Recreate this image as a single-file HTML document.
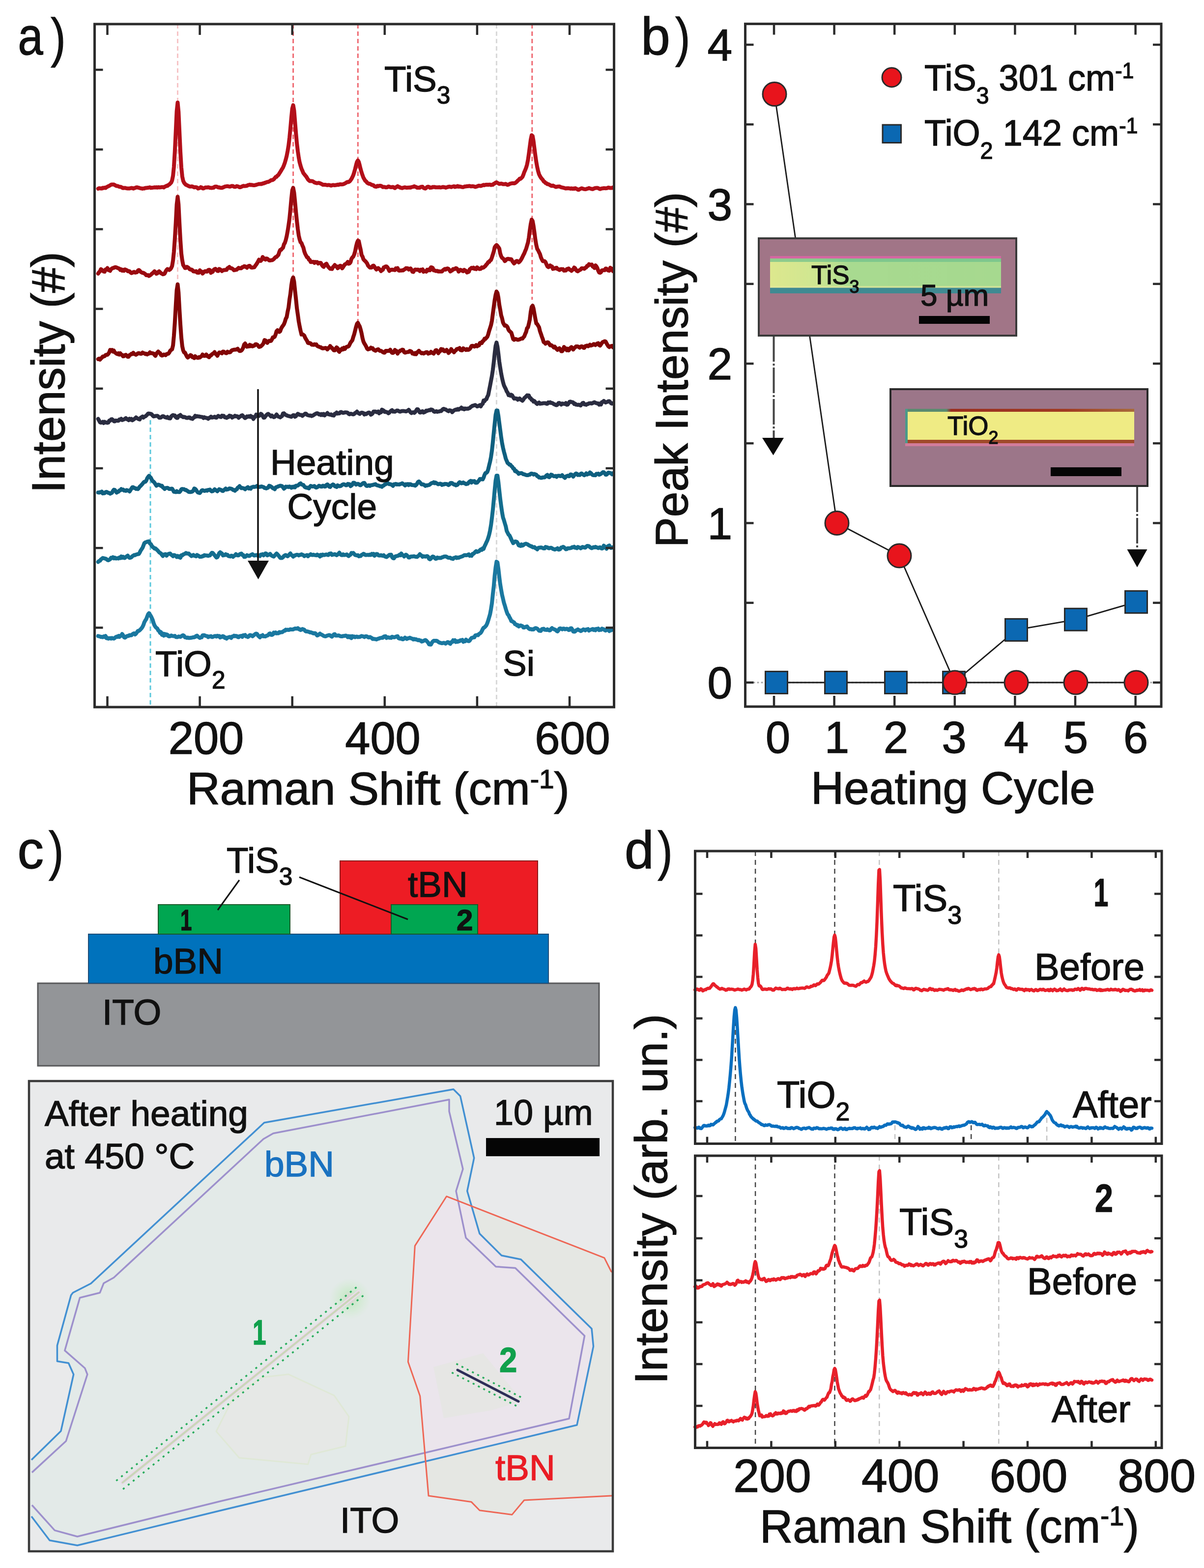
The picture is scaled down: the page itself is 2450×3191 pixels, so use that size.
<!DOCTYPE html>
<html><head><meta charset="utf-8"><title>Figure</title>
<style>html,body{margin:0;padding:0;background:#fff;width:2450px;height:3191px;overflow:hidden} svg{display:block}</style>
</head><body>
<svg width="2450" height="3191" viewBox="0 0 2450 3191" font-family="'Liberation Sans', Arial, sans-serif">
<rect width="2450" height="3191" fill="#fff"/>
<line x1="361.5" y1="49" x2="361.5" y2="575" stroke="#f7c4c6" stroke-width="3" stroke-dasharray="9,6"/>
<line x1="596.6" y1="49" x2="596.6" y2="560" stroke="#ef6a72" stroke-width="3" stroke-dasharray="9,6"/>
<line x1="728.3" y1="49" x2="728.3" y2="660" stroke="#ef6a72" stroke-width="3" stroke-dasharray="9,6"/>
<line x1="1082.8" y1="49" x2="1082.8" y2="610" stroke="#ef6a72" stroke-width="3" stroke-dasharray="9,6"/>
<line x1="1010.4" y1="49" x2="1010.4" y2="1439" stroke="#d8d8d8" stroke-width="3" stroke-dasharray="9,6"/>
<line x1="306" y1="855" x2="306" y2="1439" stroke="#5cc8dc" stroke-width="3" stroke-dasharray="9,6"/>
<polyline points="199.7,384 201.6,383 203.5,383.4 205.3,383.3 207.2,383.7 209.1,382.2 211,382.7 212.9,381.8 214.7,382.5 216.6,381 218.5,380 220.4,378.9 222.3,378.2 224.1,377.1 226,375.9 227.9,375.4 229.8,375.4 231.7,375.6 233.5,376.5 235.4,377.7 237.3,378.4 239.2,378.6 241.1,379.3 243,380.2 244.8,380.2 246.7,380.7 248.6,382 250.5,382.8 252.4,382.5 254.2,382.4 256.1,382.9 258,383.2 259.9,383.4 261.8,383.5 263.6,383.6 265.5,382.9 267.4,382.6 269.3,382.8 271.2,383.8 273,382.9 274.9,382.5 276.8,381.5 278.7,381.2 280.6,381.6 282.5,382.2 284.3,382.7 286.2,383.3 288.1,383.4 290,384 291.9,383.5 293.7,383.5 295.6,382.4 297.5,382.5 299.4,382.2 301.3,381.9 303.1,381.7 305,381.2 306.9,382.4 308.8,381.9 310.7,381.9 312.6,381.6 314.4,381.3 316.3,381.5 318.2,381.1 320.1,381.7 322,380.9 323.8,381.4 325.7,381.2 327.6,381.2 329.5,380.7 331.4,380.8 333.2,381.5 335.1,380 337,379.3 338.9,378.1 340.8,378.2 342.6,376.4 344.5,375.6 346.4,373.5 348.3,371.7 350.2,367.1 352.1,357.6 353.9,339.3 355.8,308.1 357.7,267.7 359.6,226.5 361.5,208.7 363.3,227.3 365.2,268.4 367.1,309.1 369,340.8 370.9,359.2 372.7,367.8 374.6,371.9 376.5,374.2 378.4,376.1 380.3,376.7 382.1,377.8 384,378.7 385.9,379.6 387.8,379.7 389.7,379.3 391.6,379.4 393.4,380.4 395.3,381.2 397.2,380.9 399.1,381.1 401,381.6 402.8,383.6 404.7,383 406.6,382.6 408.5,380.9 410.4,381.6 412.2,383.2 414.1,383.5 416,382.5 417.9,381.5 419.8,381.4 421.6,381.6 423.5,381.1 425.4,381.5 427.3,382.2 429.2,382.3 431.1,382.6 432.9,381.8 434.8,381.9 436.7,380.2 438.6,379.7 440.5,379.8 442.3,380.5 444.2,381.5 446.1,381.3 448,382.1 449.9,382.2 451.7,382.3 453.6,381.5 455.5,380.7 457.4,379.7 459.3,379.4 461.1,379.1 463,379.1 464.9,379.2 466.8,379.8 468.7,379.8 470.6,378.8 472.4,378.5 474.3,378.7 476.2,380.1 478.1,380.3 480,379.8 481.8,378.7 483.7,379.3 485.6,379.9 487.5,381.1 489.4,381 491.2,380 493.1,379.2 495,378.2 496.9,378.7 498.8,378.6 500.6,378.4 502.5,378 504.4,376.8 506.3,376.5 508.2,375.8 510.1,376.5 511.9,376.2 513.8,376.7 515.7,376.9 517.6,377.1 519.5,376.7 521.3,376.1 523.2,375.5 525.1,375 527,374.4 528.9,374.5 530.7,374.3 532.6,374.5 534.5,373.2 536.4,373.3 538.3,372.1 540.2,371.9 542,370.8 543.9,370.3 545.8,370.2 547.7,369.2 549.6,368.2 551.4,366.7 553.3,366.6 555.2,366.1 557.1,364.7 559,362.6 560.8,360.3 562.7,360 564.6,357.3 566.5,356.1 568.4,353 570.2,350.3 572.1,347.1 574,343.8 575.9,340.8 577.8,336.2 579.7,331 581.5,324.7 583.4,317.3 585.3,307.5 587.2,296 589.1,280.2 590.9,261.7 592.8,239.6 594.7,221 596.6,214 598.5,224.9 600.3,247.3 602.2,270.9 604.1,291.5 606,307.7 607.9,320.8 609.7,330.4 611.6,337.2 613.5,343.3 615.4,347.5 617.3,352.2 619.2,354.5 621,356.9 622.9,359 624.8,362 626.7,365.2 628.6,367.1 630.4,368.4 632.3,368.5 634.2,368.4 636.1,368.8 638,369.9 639.8,371.3 641.7,371.9 643.6,372.5 645.5,372.7 647.4,372.3 649.2,372.2 651.1,372.9 653,373.8 654.9,374.6 656.8,375.9 658.7,376.1 660.5,376.1 662.4,375.9 664.3,376.6 666.2,376.9 668.1,376.4 669.9,376.5 671.8,377.1 673.7,377.7 675.6,377.1 677.5,376.4 679.3,376.7 681.2,377.1 683.1,376.5 685,376.6 686.9,375.7 688.8,376.2 690.6,375.2 692.5,375.1 694.4,375.3 696.3,375.2 698.2,374.9 700,374.2 701.9,373.3 703.8,372.3 705.7,370.9 707.6,370.3 709.4,370.4 711.3,369.2 713.2,367.1 715.1,364.3 717,360.6 718.8,356.7 720.7,350.7 722.6,344 724.5,336.2 726.4,329.4 728.3,326.5 730.1,329.5 732,336.6 733.9,344.4 735.8,351 737.7,356.5 739.5,361.5 741.4,364.7 743.3,367.9 745.2,369.2 747.1,371.9 748.9,372.9 750.8,374 752.7,374.1 754.6,375 756.5,376.4 758.3,376.5 760.2,377.3 762.1,379.4 764,379.7 765.9,379.9 767.8,378.2 769.6,379.1 771.5,378.3 773.4,378 775.3,378.3 777.2,379.3 779,380.8 780.9,380.4 782.8,380.6 784.7,381.3 786.6,381.3 788.4,380.9 790.3,379.5 792.2,379.9 794.1,380.8 796,381 797.8,380.7 799.7,380.4 801.6,381.7 803.5,382.8 805.4,381.3 807.3,379.9 809.1,378.9 811,380.6 812.9,380.6 814.8,382.1 816.7,382.3 818.5,382.8 820.4,382 822.3,381.5 824.2,381.2 826.1,381.8 827.9,382.1 829.8,381.8 831.7,381.8 833.6,381.6 835.5,381.8 837.3,380.8 839.2,380.4 841.1,380.1 843,379.1 844.9,380 846.8,380.6 848.6,381.9 850.5,381.9 852.4,381.8 854.3,382.1 856.2,380.4 858,380.1 859.9,380.1 861.8,382.2 863.7,383.3 865.6,383.7 867.4,382.3 869.3,380.3 871.2,379.9 873.1,380.5 875,382 876.9,381.7 878.7,381.7 880.6,380.5 882.5,380.7 884.4,380.4 886.3,381.3 888.1,381.2 890,381.3 891.9,381.3 893.8,381 895.7,381.4 897.5,381.4 899.4,381.1 901.3,380.4 903.2,381 905.1,381.1 906.9,381.9 908.8,381.2 910.7,380.9 912.6,379.9 914.5,379.8 916.4,380.1 918.2,380.7 920.1,380 922,379.5 923.9,379.1 925.8,380.5 927.6,379.5 929.5,379.8 931.4,378.6 933.3,380 935.2,379.4 937,379.8 938.9,380.4 940.8,380.7 942.7,380.7 944.6,380 946.4,379.4 948.3,379.4 950.2,379 952.1,379 954,378.6 955.9,378.5 957.7,379.2 959.6,379.2 961.5,378.9 963.4,379.2 965.3,379.6 967.1,380.5 969,380 970.9,379.3 972.8,378.4 974.7,377.8 976.5,378.3 978.4,378.4 980.3,377.7 982.2,377.1 984.1,376.2 985.9,376.9 987.8,376.1 989.7,376 991.6,375.8 993.5,376.2 995.4,375.7 997.2,375.7 999.1,376.5 1001,376.1 1002.9,376.1 1004.8,373.9 1006.6,373.5 1008.5,371.8 1010.4,371.1 1012.3,372.2 1014.2,373.2 1016,374.2 1017.9,374 1019.8,373.5 1021.7,374 1023.6,374.8 1025.4,374.7 1027.3,374.7 1029.2,374.2 1031.1,375.5 1033,376.2 1034.9,375.7 1036.7,374.5 1038.6,373.7 1040.5,373.3 1042.4,373.1 1044.3,372.8 1046.1,373.2 1048,372.7 1049.9,371.2 1051.8,369.6 1053.7,367.4 1055.5,366.1 1057.4,363.6 1059.3,363.9 1061.2,362.1 1063.1,360.1 1065,355.7 1066.8,350.3 1068.7,346.1 1070.6,341.3 1072.5,334.8 1074.4,325.3 1076.2,312.8 1078.1,298.2 1080,284.1 1081.9,275.2 1083.8,276.8 1085.6,286.9 1087.5,302.1 1089.4,316.6 1091.3,329.7 1093.2,340.1 1095,348.1 1096.9,354.5 1098.8,358.4 1100.7,361.6 1102.6,363.9 1104.5,366 1106.3,369.1 1108.2,370.1 1110.1,372.4 1112,373 1113.9,374.8 1115.7,374.8 1117.6,375.8 1119.5,376.9 1121.4,377.9 1123.3,378.4 1125.1,377.6 1127,378.5 1128.9,379.5 1130.8,380.4 1132.7,380.2 1134.5,379.7 1136.4,379.6 1138.3,379.4 1140.2,380.3 1142.1,381.3 1144,381.5 1145.8,382 1147.7,382.4 1149.6,383.1 1151.5,383.5 1153.4,383.1 1155.2,383.2 1157.1,383.1 1159,383.4 1160.9,384 1162.8,383.3 1164.6,384.2 1166.5,383.6 1168.4,384.3 1170.3,383 1172.2,383.8 1174,384.7 1175.9,386 1177.8,386.2 1179.7,384.9 1181.6,384 1183.5,383.3 1185.3,383.6 1187.2,384.5 1189.1,384.8 1191,385.2 1192.9,384.8 1194.7,384.1 1196.6,383.6 1198.5,382.8 1200.4,383.5 1202.3,384 1204.1,384.6 1206,384.9 1207.9,383.9 1209.8,383.2 1211.7,382.7 1213.5,382.6 1215.4,382.5 1217.3,382.9 1219.2,384 1221.1,384.7 1223,384.1 1224.8,383.4 1226.7,383.3 1228.6,383 1230.5,383.1 1232.4,383.2 1234.2,383.1 1236.1,382.5 1238,381.7 1239.9,382.1 1241.8,382.6 1243.6,382.6 1245.5,382.5 1247.4,381.4" fill="none" stroke="#b30f19" stroke-width="8" stroke-linejoin="round" stroke-linecap="round" />
<polyline points="199.7,556.8 201.6,554 203.5,552 205.3,547.8 207.2,549.1 209.1,551 211,552.5 212.9,552.9 214.7,548.5 216.6,548.1 218.5,545.5 220.4,549.7 222.3,549.8 224.1,551.2 226,547.7 227.9,546.4 229.8,545.4 231.7,545 233.5,543.9 235.4,543.7 237.3,544.4 239.2,545.3 241.1,546.1 243,546.8 244.8,549.3 246.7,548.1 248.6,550.7 250.5,549.2 252.4,550.9 254.2,548.3 256.1,549.1 258,549.7 259.9,552 261.8,551.6 263.6,552.1 265.5,554.4 267.4,555.8 269.3,555 271.2,553.8 273,553.2 274.9,554.8 276.8,554.4 278.7,554.1 280.6,550.7 282.5,549.5 284.3,550.9 286.2,553.2 288.1,554.4 290,555.2 291.9,555.2 293.7,556.5 295.6,557.6 297.5,560.1 299.4,560.2 301.3,559.8 303.1,561.6 305,560.5 306.9,559.2 308.8,557.2 310.7,555.9 312.6,554 314.4,552.2 316.3,554.1 318.2,557.1 320.1,556.3 322,553.3 323.8,552.2 325.7,553.9 327.6,556.1 329.5,556.9 331.4,558.2 333.2,557.8 335.1,556.7 337,552.5 338.9,549.3 340.8,547.5 342.6,548.4 344.5,549.4 346.4,548 348.3,545.5 350.2,541.3 352.1,529.9 353.9,512.3 355.8,485.9 357.7,453.5 359.6,416.2 361.5,400.4 363.3,415.9 365.2,454 367.1,488.6 369,516.1 370.9,530 372.7,539.1 374.6,542.3 376.5,545.4 378.4,545.2 380.3,543.1 382.1,544.1 384,545.3 385.9,547.8 387.8,548.7 389.7,548.6 391.6,549.9 393.4,552.1 395.3,552.5 397.2,552.3 399.1,551.8 401,554.8 402.8,554.9 404.7,555 406.6,550.1 408.5,552.5 410.4,552.7 412.2,556.7 414.1,554.7 416,552.4 417.9,551.7 419.8,552.7 421.6,552.8 423.5,549.5 425.4,549 427.3,549.8 429.2,555.2 431.1,553.7 432.9,553.1 434.8,549.2 436.7,547.7 438.6,547 440.5,549.3 442.3,551.2 444.2,551.5 446.1,547.4 448,548.2 449.9,549.8 451.7,551.7 453.6,550.2 455.5,549.6 457.4,549.6 459.3,549 461.1,549.3 463,545.7 464.9,544.7 466.8,543.3 468.7,545.8 470.6,545.8 472.4,546.5 474.3,547.9 476.2,549.9 478.1,549.6 480,549 481.8,548.8 483.7,546.7 485.6,545.1 487.5,546.1 489.4,545.8 491.2,545.9 493.1,543.4 495,543.4 496.9,541.7 498.8,542.1 500.6,543.4 502.5,544.9 504.4,542.4 506.3,541.2 508.2,540.9 510.1,543.7 511.9,544.5 513.8,544.6 515.7,544.2 517.6,543.8 519.5,540.8 521.3,538.5 523.2,535.5 525.1,532.2 527,528.5 528.9,530.8 530.7,530.9 532.6,528.3 534.5,523 536.4,525.2 538.3,527.2 540.2,528.3 542,526.1 543.9,526.5 545.8,528.1 547.7,530 549.6,530.1 551.4,529.5 553.3,529.6 555.2,528.8 557.1,527.2 559,525.1 560.8,523.2 562.7,522.9 564.6,520.7 566.5,518.7 568.4,512.6 570.2,508.5 572.1,508.4 574,505.8 575.9,504.2 577.8,497.2 579.7,494.3 581.5,488.6 583.4,480.7 585.3,470.6 587.2,458.4 589.1,444.8 590.9,426.5 592.8,405 594.7,387.4 596.6,382.2 598.5,392.2 600.3,410.1 602.2,431.1 604.1,449.7 606,466.2 607.9,479.3 609.7,487.1 611.6,492.9 613.5,494.7 615.4,499.7 617.3,503.7 619.2,511.6 621,516.5 622.9,520.1 624.8,523.7 626.7,524.2 628.6,528.4 630.4,529.1 632.3,533.3 634.2,533.2 636.1,532.9 638,532.8 639.8,535.1 641.7,533 643.6,533.5 645.5,533.3 647.4,536.3 649.2,535 651.1,535 653,535.1 654.9,539.1 656.8,541.7 658.7,543.1 660.5,539.7 662.4,537.8 664.3,536.6 666.2,540.4 668.1,543.2 669.9,545 671.8,547 673.7,546.9 675.6,547.5 677.5,543.6 679.3,541.9 681.2,539.2 683.1,541.9 685,541.9 686.9,545.8 688.8,544.7 690.6,541.8 692.5,540.7 694.4,541.4 696.3,546 698.2,543.5 700,540.6 701.9,537.9 703.8,537.1 705.7,535.7 707.6,533 709.4,536.7 711.3,536 713.2,533.9 715.1,526.9 717,524 718.8,522.3 720.7,518 722.6,511.7 724.5,502 726.4,494.4 728.3,489.9 730.1,490.5 732,499.7 733.9,508 735.8,519 737.7,522.1 739.5,527.5 741.4,529.8 743.3,531.3 745.2,533.6 747.1,536.2 748.9,540.6 750.8,542.6 752.7,544.5 754.6,544.5 756.5,544.5 758.3,541.1 760.2,540.5 762.1,543 764,546.2 765.9,548.4 767.8,546.3 769.6,545.5 771.5,547.5 773.4,548.5 775.3,551.7 777.2,549.8 779,549.1 780.9,544.2 782.8,543.7 784.7,542.2 786.6,542.3 788.4,544 790.3,547.3 792.2,551.3 794.1,549.8 796,548.9 797.8,548.7 799.7,549 801.6,549.2 803.5,549.7 805.4,546.3 807.3,547.5 809.1,545.7 811,550.3 812.9,550.8 814.8,550.6 816.7,550.6 818.5,550.1 820.4,550.3 822.3,548.6 824.2,547.7 826.1,545.7 827.9,545.9 829.8,546 831.7,548.5 833.6,547 835.5,546.3 837.3,549 839.2,553 841.1,553.5 843,550.3 844.9,548.6 846.8,548.8 848.6,549 850.5,548.6 852.4,549.4 854.3,551.6 856.2,548.8 858,549.2 859.9,548.2 861.8,553 863.7,551.7 865.6,552.1 867.4,552.8 869.3,548.8 871.2,550.3 873.1,548.3 875,549.9 876.9,544.1 878.7,544.3 880.6,545.3 882.5,550.3 884.4,550.2 886.3,551.4 888.1,551.4 890,551.3 891.9,552.5 893.8,552.3 895.7,552.4 897.5,552.5 899.4,552.4 901.3,550.1 903.2,548.6 905.1,547.4 906.9,548.7 908.8,546.9 910.7,546.3 912.6,547.2 914.5,549.6 916.4,552.4 918.2,551.1 920.1,550.3 922,547.4 923.9,547.7 925.8,547.5 927.6,545.7 929.5,546.5 931.4,548.6 933.3,552.7 935.2,550.7 937,549 938.9,549.9 940.8,551.2 942.7,551.9 944.6,549.1 946.4,550.5 948.3,551.3 950.2,554.6 952.1,553.8 954,553 955.9,548 957.7,546.7 959.6,545 961.5,546 963.4,544.6 965.3,547 967.1,545.8 969,547.7 970.9,544.1 972.8,545.7 974.7,547.2 976.5,547.4 978.4,547 980.3,544.1 982.2,545 984.1,544.4 985.9,542.7 987.8,541.1 989.7,538.4 991.6,536.6 993.5,533.3 995.4,533 997.2,530.2 999.1,529 1001,523.8 1002.9,517.8 1004.8,511.8 1006.6,503.4 1008.5,500.4 1010.4,498.7 1012.3,500.5 1014.2,503.1 1016,505.7 1017.9,515.7 1019.8,521.4 1021.7,524.9 1023.6,525.8 1025.4,528.2 1027.3,531.3 1029.2,529.8 1031.1,527.5 1033,526.8 1034.9,526.8 1036.7,527.7 1038.6,527.3 1040.5,527.7 1042.4,531.2 1044.3,533.9 1046.1,536.2 1048,534.4 1049.9,531.7 1051.8,531.1 1053.7,531.8 1055.5,534 1057.4,532.3 1059.3,529.9 1061.2,526.8 1063.1,523.1 1065,519 1066.8,515.8 1068.7,510.9 1070.6,506.5 1072.5,499.9 1074.4,493.5 1076.2,483.6 1078.1,468.6 1080,455.9 1081.9,447 1083.8,449.8 1085.6,459.5 1087.5,472.9 1089.4,487.7 1091.3,498.6 1093.2,506.5 1095,509.3 1096.9,513.4 1098.8,517 1100.7,523.7 1102.6,527.9 1104.5,531.4 1106.3,531.2 1108.2,531.4 1110.1,533.5 1112,538 1113.9,542 1115.7,543.6 1117.6,543 1119.5,540.2 1121.4,542.1 1123.3,542.2 1125.1,547.2 1127,546.3 1128.9,546.4 1130.8,545.2 1132.7,544.8 1134.5,547.6 1136.4,547.9 1138.3,549.5 1140.2,548.3 1142.1,547.6 1144,547.9 1145.8,547.8 1147.7,550.8 1149.6,550.3 1151.5,550.6 1153.4,547.7 1155.2,547.2 1157.1,546.3 1159,548.7 1160.9,549.4 1162.8,551.2 1164.6,549.1 1166.5,548.5 1168.4,544.5 1170.3,546 1172.2,549.2 1174,551.4 1175.9,552.2 1177.8,550.4 1179.7,549.6 1181.6,548.5 1183.5,545.9 1185.3,546.1 1187.2,546.2 1189.1,547 1191,545 1192.9,544.2 1194.7,541.1 1196.6,541 1198.5,537.6 1200.4,538.7 1202.3,538.7 1204.1,538.3 1206,542.4 1207.9,543.4 1209.8,545.3 1211.7,540.1 1213.5,542 1215.4,545.3 1217.3,550.7 1219.2,554.6 1221.1,555 1223,553.8 1224.8,550.2 1226.7,550.1 1228.6,549.6 1230.5,549.9 1232.4,546.6 1234.2,546.8 1236.1,549.3 1238,550.5 1239.9,550.9 1241.8,544.9 1243.6,546.9 1245.5,546.8 1247.4,552" fill="none" stroke="#9a0a10" stroke-width="8" stroke-linejoin="round" stroke-linecap="round" />
<polyline points="199.7,730.9 201.6,729.9 203.5,731.8 205.3,729.6 207.2,727.9 209.1,725.6 211,725.4 212.9,724.8 214.7,722.7 216.6,721.9 218.5,722 220.4,720.2 222.3,717.1 224.1,712 226,713.2 227.9,712.1 229.8,715.4 231.7,713.6 233.5,717 235.4,718.4 237.3,719.8 239.2,720.7 241.1,719 243,721.6 244.8,719 246.7,721.7 248.6,722.3 250.5,725.2 252.4,724.8 254.2,722.6 256.1,722.1 258,723.9 259.9,726.1 261.8,725.9 263.6,722.6 265.5,721.9 267.4,719.9 269.3,720.4 271.2,718 273,720.4 274.9,720.9 276.8,721.9 278.7,720.7 280.6,719 282.5,718.5 284.3,719.5 286.2,719.9 288.1,719.7 290,717.5 291.9,718.8 293.7,718.9 295.6,720.4 297.5,719.7 299.4,721.3 301.3,720.1 303.1,719.6 305,717 306.9,718.7 308.8,718.7 310.7,719 312.6,719.5 314.4,722.2 316.3,724.2 318.2,720 320.1,717.5 322,715.5 323.8,717.6 325.7,718.5 327.6,722.4 329.5,723.6 331.4,723.1 333.2,721.5 335.1,721.9 337,722.8 338.9,720.6 340.8,720.1 342.6,719.8 344.5,717.3 346.4,713.7 348.3,712 350.2,710.8 352.1,702.9 353.9,683.4 355.8,656.1 357.7,621.9 359.6,590.6 361.5,578.8 363.3,595.1 365.2,629.5 367.1,660.7 369,687.3 370.9,704.6 372.7,712.8 374.6,717 376.5,717.8 378.4,721.7 380.3,725.5 382.1,727.5 384,726 385.9,724.2 387.8,722.6 389.7,723.7 391.6,727.1 393.4,727 395.3,728.6 397.2,725 399.1,727.5 401,727.5 402.8,728.3 404.7,726.8 406.6,727.6 408.5,725.9 410.4,724.7 412.2,721.4 414.1,724 416,724.3 417.9,724 419.8,721.4 421.6,724.7 423.5,725.6 425.4,726.9 427.3,723.8 429.2,723.6 431.1,721.2 432.9,719.8 434.8,718.9 436.7,716.6 438.6,720 440.5,721.4 442.3,724 444.2,720 446.1,717.3 448,718 449.9,717.7 451.7,719 453.6,715.5 455.5,715.8 457.4,717.4 459.3,718.5 461.1,718.7 463,715.7 464.9,717.1 466.8,717.1 468.7,716.7 470.6,714.1 472.4,712.6 474.3,712.2 476.2,711.7 478.1,711.5 480,711.6 481.8,710.8 483.7,709.7 485.6,712.5 487.5,714.3 489.4,714.2 491.2,713.2 493.1,711.1 495,707.2 496.9,701 498.8,699.1 500.6,702.3 502.5,705.6 504.4,704.3 506.3,705 508.2,701.7 510.1,704.4 511.9,703.1 513.8,704.9 515.7,704.1 517.6,703.3 519.5,700.7 521.3,700.6 523.2,701.2 525.1,703.4 527,706 528.9,705.6 530.7,704.8 532.6,702.9 534.5,701.2 536.4,697.9 538.3,692.1 540.2,692.7 542,694.5 543.9,697.7 545.8,694.8 547.7,693.6 549.6,694 551.4,693.8 553.3,690.8 555.2,686.5 557.1,686.6 559,685.2 560.8,680.8 562.7,674.2 564.6,672 566.5,674.5 568.4,675.5 570.2,673.9 572.1,668.5 574,665.2 575.9,662.6 577.8,659.7 579.7,654.9 581.5,648.7 583.4,645.3 585.3,634.4 587.2,625.6 589.1,609.3 590.9,598.1 592.8,581.1 594.7,569.3 596.6,564.6 598.5,573.3 600.3,591.2 602.2,608.3 604.1,627.1 606,640.2 607.9,654.1 609.7,663.9 611.6,672.9 613.5,680.7 615.4,680.3 617.3,681.4 619.2,683.2 621,687.4 622.9,690.6 624.8,693.6 626.7,697.9 628.6,698.4 630.4,698.1 632.3,698.9 634.2,701.4 636.1,701.6 638,701.8 639.8,700.6 641.7,701.6 643.6,700.8 645.5,704 647.4,705 649.2,705.6 651.1,706.5 653,706.8 654.9,708.4 656.8,709 658.7,708.6 660.5,708.6 662.4,708.1 664.3,708.8 666.2,711.1 668.1,708.1 669.9,708.1 671.8,704.2 673.7,706.9 675.6,707.9 677.5,710.7 679.3,712.8 681.2,713.1 683.1,709.6 685,706.9 686.9,708.6 688.8,714.3 690.6,715.9 692.5,711.7 694.4,712.3 696.3,709.1 698.2,711.1 700,707.6 701.9,710 703.8,707.2 705.7,705.7 707.6,705.5 709.4,704.7 711.3,701.4 713.2,697.4 715.1,694.9 717,692.4 718.8,686.1 720.7,680.4 722.6,673.1 724.5,665.3 726.4,659.1 728.3,657.1 730.1,661.1 732,664.3 733.9,670.7 735.8,678.4 737.7,688.3 739.5,695 741.4,698.9 743.3,701.9 745.2,705.4 747.1,709.6 748.9,711 750.8,710.3 752.7,709.8 754.6,707.5 756.5,709.1 758.3,708.6 760.2,711.7 762.1,712.8 764,713.8 765.9,712.3 767.8,711.5 769.6,710.7 771.5,712.8 773.4,714 775.3,714 777.2,715.1 779,716.5 780.9,717.6 782.8,717.7 784.7,714.1 786.6,713.9 788.4,714.3 790.3,714 792.2,714.1 794.1,711.7 796,715.7 797.8,717.9 799.7,718.3 801.6,717 803.5,712.1 805.4,714.1 807.3,714.4 809.1,719.7 811,715.4 812.9,715.4 814.8,713.2 816.7,713 818.5,711.6 820.4,712 822.3,716.5 824.2,717.7 826.1,717.2 827.9,716.7 829.8,716.3 831.7,716.2 833.6,714.2 835.5,714.6 837.3,715.7 839.2,719.4 841.1,718.7 843,720.6 844.9,718.6 846.8,720.8 848.6,717.5 850.5,715.8 852.4,713.9 854.3,716.3 856.2,717.6 858,719 859.9,718.3 861.8,719.4 863.7,718.7 865.6,717.5 867.4,716.8 869.3,716.7 871.2,719.7 873.1,718.7 875,718.7 876.9,716 878.7,717.6 880.6,718.5 882.5,719.7 884.4,716.4 886.3,713.1 888.1,712.5 890,715 891.9,718.8 893.8,715.9 895.7,714.6 897.5,710.3 899.4,711.2 901.3,711 903.2,714.4 905.1,714.8 906.9,714 908.8,712.1 910.7,714.3 912.6,718.3 914.5,716.5 916.4,714.3 918.2,710.4 920.1,713.8 922,714.5 923.9,716.9 925.8,713.9 927.6,713.1 929.5,710.3 931.4,709.9 933.3,709.5 935.2,708.3 937,712.4 938.9,712.9 940.8,712.9 942.7,708.9 944.6,710.4 946.4,710.8 948.3,712.2 950.2,710.4 952.1,712.1 954,711.7 955.9,710.2 957.7,707.6 959.6,703.9 961.5,703.7 963.4,704.1 965.3,705.4 967.1,704.6 969,702.2 970.9,704.7 972.8,703.4 974.7,702.7 976.5,698 978.4,697.3 980.3,698.2 982.2,694.3 984.1,693.4 985.9,689.4 987.8,689.8 989.7,687.4 991.6,685.5 993.5,680.3 995.4,673.2 997.2,667.7 999.1,661.8 1001,652.8 1002.9,638.2 1004.8,624.4 1006.6,610.9 1008.5,600.2 1010.4,593.4 1012.3,596.3 1014.2,605.9 1016,620 1017.9,630.2 1019.8,641.7 1021.7,647.8 1023.6,656.4 1025.4,659.8 1027.3,662.8 1029.2,662.3 1031.1,663.6 1033,666.3 1034.9,671.4 1036.7,673.7 1038.6,675.3 1040.5,677.1 1042.4,683.5 1044.3,690.1 1046.1,691.5 1048,690.3 1049.9,690 1051.8,690.9 1053.7,691.6 1055.5,691.1 1057.4,690.6 1059.3,689.7 1061.2,688.7 1063.1,689.1 1065,686.5 1066.8,684.7 1068.7,679.7 1070.6,675.5 1072.5,667.7 1074.4,666.1 1076.2,658.7 1078.1,650.1 1080,634.4 1081.9,624.6 1083.8,622.1 1085.6,627.5 1087.5,638.1 1089.4,648.6 1091.3,658.2 1093.2,659.7 1095,662.8 1096.9,666 1098.8,674 1100.7,679.3 1102.6,685.1 1104.5,690 1106.3,696.1 1108.2,697 1110.1,699.4 1112,697.6 1113.9,696.6 1115.7,697 1117.6,699.6 1119.5,702.7 1121.4,702.2 1123.3,703.7 1125.1,704.8 1127,707.1 1128.9,705.6 1130.8,708.1 1132.7,710.4 1134.5,712.1 1136.4,710.1 1138.3,708.7 1140.2,710.7 1142.1,714.8 1144,714.7 1145.8,712 1147.7,706.1 1149.6,709.9 1151.5,709.1 1153.4,712.8 1155.2,709.8 1157.1,713.1 1159,710.8 1160.9,707.9 1162.8,706.3 1164.6,707.8 1166.5,711.2 1168.4,708.5 1170.3,707.1 1172.2,705 1174,705.1 1175.9,705.1 1177.8,706.2 1179.7,707.6 1181.6,705.6 1183.5,704.7 1185.3,705.5 1187.2,707.8 1189.1,708 1191,704.4 1192.9,703.9 1194.7,703.3 1196.6,704.7 1198.5,703.7 1200.4,701.5 1202.3,703.3 1204.1,702.6 1206,702 1207.9,700.3 1209.8,700.5 1211.7,702.2 1213.5,700.5 1215.4,699.1 1217.3,698.4 1219.2,702.1 1221.1,703.3 1223,700.7 1224.8,697.8 1226.7,696 1228.6,695.4 1230.5,694.4 1232.4,695 1234.2,698.6 1236.1,701.9 1238,704.9 1239.9,706.3 1241.8,704.8 1243.6,704.3 1245.5,703.8 1247.4,706.8" fill="none" stroke="#820505" stroke-width="8" stroke-linejoin="round" stroke-linecap="round" />
<polyline points="199.7,852.5 201.6,855.8 203.5,859.3 205.3,860.2 207.2,859.8 209.1,858.5 211,860.9 212.9,858.5 214.7,859.8 216.6,859.8 218.5,860.5 220.4,860 222.3,856 224.1,856.3 226,853.5 227.9,853.1 229.8,854.6 231.7,857.3 233.5,857.6 235.4,855.8 237.3,855.9 239.2,856.2 241.1,856.3 243,853.6 244.8,853.9 246.7,852.3 248.6,855 250.5,854.1 252.4,853.5 254.2,852.3 256.1,850.9 258,853.2 259.9,853 261.8,855.1 263.6,852.3 265.5,854.1 267.4,852.5 269.3,855.3 271.2,854.1 273,852.9 274.9,851.4 276.8,849.5 278.7,851 280.6,852 282.5,853.2 284.3,853.6 286.2,850 288.1,849 290,847.6 291.9,849.7 293.7,848 295.6,847.5 297.5,845.9 299.4,844.1 301.3,841.7 303.1,841.5 305,842 306.9,842.2 308.8,843.3 310.7,845.7 312.6,847.4 314.4,847 316.3,846.6 318.2,846.6 320.1,846.2 322,847.4 323.8,849.9 325.7,850 327.6,849.6 329.5,847.8 331.4,847 333.2,847.4 335.1,848.8 337,849.3 338.9,850.1 340.8,848.4 342.6,850.8 344.5,851.3 346.4,851.5 348.3,847.7 350.2,845.9 352.1,844.7 353.9,845.5 355.8,845.6 357.7,848.9 359.6,850.4 361.5,850.4 363.3,846.5 365.2,845.9 367.1,844.5 369,847.3 370.9,847.4 372.7,849 374.6,848.4 376.5,848.8 378.4,850 380.3,850.6 382.1,850.4 384,849.4 385.9,849.5 387.8,851.5 389.7,851.5 391.6,852.5 393.4,850.1 395.3,849.7 397.2,846.1 399.1,847.8 401,846.9 402.8,847.4 404.7,847.4 406.6,848 408.5,848.3 410.4,848.4 412.2,848.8 414.1,850.8 416,849.2 417.9,850.3 419.8,850.4 421.6,851 423.5,852.3 425.4,850.5 427.3,850.1 429.2,848 431.1,849.7 432.9,849.6 434.8,848.9 436.7,848 438.6,849.8 440.5,849.9 442.3,848 444.2,846.3 446.1,847.5 448,848.4 449.9,848.7 451.7,845.7 453.6,846.3 455.5,846.3 457.4,849.3 459.3,849.6 461.1,850.4 463,848.4 464.9,848.8 466.8,845.9 468.7,846.4 470.6,846.9 472.4,849.9 474.3,848.4 476.2,847.7 478.1,846.1 480,847.4 481.8,846.9 483.7,847.6 485.6,850.2 487.5,848.2 489.4,847.5 491.2,845.6 493.1,845.1 495,847 496.9,849.3 498.8,850.8 500.6,849.8 502.5,847.3 504.4,848.3 506.3,847 508.2,848.3 510.1,846.5 511.9,848.9 513.8,848.3 515.7,852.5 517.6,848.8 519.5,848.2 521.3,843.7 523.2,845.4 525.1,846 527,846.4 528.9,844.7 530.7,842.1 532.6,843.4 534.5,846.6 536.4,850 538.3,849.7 540.2,846.9 542,845 543.9,843.1 545.8,842.3 547.7,843.9 549.6,845.3 551.4,847.5 553.3,845.8 555.2,847.7 557.1,849 559,848.3 560.8,846.2 562.7,843.6 564.6,846 566.5,847.9 568.4,848.3 570.2,849.4 572.1,847.9 574,846.7 575.9,841.4 577.8,841.1 579.7,842.9 581.5,844.6 583.4,845.1 585.3,846.1 587.2,846.7 589.1,847.2 590.9,847.7 592.8,848.3 594.7,846.5 596.6,844.9 598.5,844.9 600.3,848.1 602.2,847 604.1,844.4 606,842.1 607.9,843 609.7,844.3 611.6,844.5 613.5,844.4 615.4,846.3 617.3,844.6 619.2,843.3 621,841.7 622.9,842 624.8,844.3 626.7,845 628.6,845.5 630.4,845.7 632.3,845.6 634.2,846.7 636.1,845.8 638,844.9 639.8,843.5 641.7,842.5 643.6,841.3 645.5,840.9 647.4,841.9 649.2,843.5 651.1,842.7 653,844.5 654.9,842.8 656.8,844.6 658.7,842.5 660.5,845.3 662.4,843.4 664.3,842.5 666.2,840.6 668.1,843 669.9,843.4 671.8,844 673.7,843.2 675.6,845.1 677.5,845.3 679.3,845.7 681.2,842.1 683.1,842.1 685,839.5 686.9,841.7 688.8,841 690.6,841.3 692.5,838.8 694.4,838.4 696.3,839.6 698.2,840.2 700,839.9 701.9,839.3 703.8,839.3 705.7,839.4 707.6,840 709.4,842.1 711.3,843.1 713.2,842 715.1,842.3 717,842.9 718.8,843.3 720.7,842.5 722.6,840.4 724.5,839.7 726.4,837.6 728.3,840.2 730.1,841.2 732,842.4 733.9,840.5 735.8,839.8 737.7,840 739.5,840.7 741.4,843.5 743.3,841.8 745.2,842.8 747.1,841.2 748.9,840.1 750.8,839.4 752.7,840.5 754.6,843.9 756.5,843 758.3,841.2 760.2,837.4 762.1,837.5 764,837.4 765.9,838.7 767.8,838.5 769.6,837.4 771.5,841.2 773.4,839.4 775.3,839.1 777.2,833.7 779,834.6 780.9,835.7 782.8,838.3 784.7,837.9 786.6,838.8 788.4,839 790.3,841.1 792.2,839.9 794.1,837.4 796,835.7 797.8,834.6 799.7,837.6 801.6,837 803.5,837.9 805.4,836.8 807.3,835.6 809.1,835.4 811,836.4 812.9,837.5 814.8,837.7 816.7,836.8 818.5,836.6 820.4,836.4 822.3,836.6 824.2,836.9 826.1,837.3 827.9,836.5 829.8,835.7 831.7,834 833.6,836.5 835.5,839.3 837.3,840.7 839.2,839.4 841.1,839 843,840.3 844.9,838.6 846.8,835.5 848.6,832.8 850.5,832.9 852.4,836.2 854.3,839.5 856.2,839.4 858,837.4 859.9,836.9 861.8,839.6 863.7,838.8 865.6,837.9 867.4,835.5 869.3,836.2 871.2,835.2 873.1,834.5 875,834.9 876.9,833.3 878.7,833.7 880.6,834.6 882.5,837.2 884.4,838.1 886.3,837.5 888.1,836.8 890,838.1 891.9,837.4 893.8,837.3 895.7,836.4 897.5,836.6 899.4,834.7 901.3,832.5 903.2,831.9 905.1,833.1 906.9,833.2 908.8,834.8 910.7,835.7 912.6,836.8 914.5,835 916.4,835.3 918.2,835.8 920.1,838.8 922,836.7 923.9,835.3 925.8,834.2 927.6,833.5 929.5,833.9 931.4,832.3 933.3,833.6 935.2,832 937,831.6 938.9,829.6 940.8,832 942.7,831.2 944.6,832.9 946.4,831.3 948.3,831.9 950.2,831.6 952.1,831.9 954,830.9 955.9,830.5 957.7,828.4 959.6,827.2 961.5,825.8 963.4,825.5 965.3,824.6 967.1,824.3 969,825.7 970.9,827.2 972.8,826.7 974.7,825.5 976.5,824.4 978.4,827 980.3,823.4 982.2,821.8 984.1,815.2 985.9,816.5 987.8,813.4 989.7,812.5 991.6,807.5 993.5,803.9 995.4,794.1 997.2,785.1 999.1,775 1001,765 1002.9,752.5 1004.8,736.8 1006.6,719.3 1008.5,703.8 1010.4,697 1012.3,705.3 1014.2,719.7 1016,735.8 1017.9,748.1 1019.8,759.9 1021.7,769.5 1023.6,777.6 1025.4,784 1027.3,787.9 1029.2,791.6 1031.1,796.5 1033,799.1 1034.9,804.1 1036.7,803.1 1038.6,805.2 1040.5,803.4 1042.4,804.8 1044.3,808.4 1046.1,811.2 1048,810.6 1049.9,811.3 1051.8,811 1053.7,813.4 1055.5,811.9 1057.4,810.8 1059.3,813 1061.2,814.2 1063.1,815.5 1065,813.2 1066.8,810.2 1068.7,808.7 1070.6,806.8 1072.5,804.6 1074.4,804.7 1076.2,804.8 1078.1,810 1080,810.2 1081.9,814 1083.8,814.1 1085.6,817.3 1087.5,816.2 1089.4,818.5 1091.3,820.8 1093.2,822.1 1095,820.2 1096.9,819.1 1098.8,821.7 1100.7,821.2 1102.6,821.3 1104.5,820.7 1106.3,820.4 1108.2,820.4 1110.1,820.5 1112,821.8 1113.9,821.8 1115.7,818.8 1117.6,819.8 1119.5,818.6 1121.4,820.1 1123.3,820.1 1125.1,820.9 1127,822.5 1128.9,822.9 1130.8,824.2 1132.7,824.4 1134.5,823.4 1136.4,820.2 1138.3,820.1 1140.2,821.2 1142.1,823.3 1144,821.2 1145.8,821.7 1147.7,821.7 1149.6,822.2 1151.5,820.3 1153.4,823.7 1155.2,823.3 1157.1,820.7 1159,817.7 1160.9,817.3 1162.8,818.2 1164.6,818.4 1166.5,819 1168.4,822.1 1170.3,821.5 1172.2,823.5 1174,823.6 1175.9,824 1177.8,823.5 1179.7,824.4 1181.6,825.2 1183.5,822.5 1185.3,820.4 1187.2,819.8 1189.1,823 1191,822.7 1192.9,823.8 1194.7,822.2 1196.6,822.3 1198.5,820.7 1200.4,820.8 1202.3,820.6 1204.1,821.2 1206,820.3 1207.9,819.1 1209.8,818.6 1211.7,819.7 1213.5,820.4 1215.4,820.9 1217.3,821.1 1219.2,823.6 1221.1,821.3 1223,823.2 1224.8,818.4 1226.7,818 1228.6,815.9 1230.5,817.5 1232.4,819.1 1234.2,818.2 1236.1,817.8 1238,816.4 1239.9,816.5 1241.8,818.4 1243.6,820.7 1245.5,821.4 1247.4,820.5" fill="none" stroke="#2a2c40" stroke-width="8" stroke-linejoin="round" stroke-linecap="round" />
<polyline points="199.7,1002.2 201.6,1002.6 203.5,1001.5 205.3,1002 207.2,1000.4 209.1,1004.2 211,1003.8 212.9,1003.8 214.7,1001.6 216.6,1000.9 218.5,1001.8 220.4,1003 222.3,1003.3 224.1,1004.7 226,1003.7 227.9,1002.8 229.8,999.2 231.7,996.6 233.5,996.9 235.4,999.3 237.3,1002.5 239.2,1001.4 241.1,1000.6 243,998 244.8,998 246.7,995.3 248.6,996.8 250.5,996.3 252.4,998.5 254.2,998 256.1,999 258,997.4 259.9,998.3 261.8,998.5 263.6,1000.2 265.5,997.4 267.4,994.4 269.3,991.6 271.2,991.6 273,993 274.9,993.4 276.8,995 278.7,994.3 280.6,995.3 282.5,993.2 284.3,990.4 286.2,988.9 288.1,986.7 290,984.6 291.9,982.1 293.7,980.4 295.6,980.5 297.5,978.4 299.4,973.6 301.3,970.8 303.1,968.5 305,970.5 306.9,972.2 308.8,976 310.7,979.1 312.6,980.4 314.4,982.4 316.3,985.4 318.2,988.5 320.1,987.4 322,986.2 323.8,986.8 325.7,987.6 327.6,989 329.5,988.5 331.4,991.8 333.2,993.2 335.1,995 337,993.2 338.9,993.1 340.8,992.8 342.6,993.8 344.5,995 346.4,995.1 348.3,994.5 350.2,994.4 352.1,997.4 353.9,1000.8 355.8,1001 357.7,1001.5 359.6,999.4 361.5,1001.1 363.3,1001.2 365.2,1001.3 367.1,999.4 369,995.8 370.9,995.1 372.7,995.4 374.6,995.6 376.5,997 378.4,997 380.3,998.5 382.1,999.4 384,1001.1 385.9,1001.2 387.8,1001.3 389.7,1000.9 391.6,1000.2 393.4,998.4 395.3,994.1 397.2,995.1 399.1,997.1 401,1000.3 402.8,1002.2 404.7,1002.8 406.6,1003.3 408.5,1000.9 410.4,998.3 412.2,997.6 414.1,998.2 416,999.1 417.9,998.7 419.8,997.7 421.6,998.6 423.5,997 425.4,997.1 427.3,996.3 429.2,998.9 431.1,1000 432.9,999.5 434.8,998 436.7,995.8 438.6,997.2 440.5,998.4 442.3,999.8 444.2,997.5 446.1,995.5 448,996.4 449.9,997.1 451.7,998.7 453.6,999.3 455.5,997.5 457.4,995.9 459.3,994.2 461.1,996.5 463,996 464.9,995.4 466.8,993.9 468.7,994.3 470.6,994.6 472.4,995.4 474.3,997.2 476.2,997.3 478.1,998.6 480,996.3 481.8,995.9 483.7,992.5 485.6,991.4 487.5,989.3 489.4,991.5 491.2,993.4 493.1,993 495,993.5 496.9,994.2 498.8,995.7 500.6,993.8 502.5,992.6 504.4,991.4 506.3,994.1 508.2,993.5 510.1,994.6 511.9,991.6 513.8,991.3 515.7,990.4 517.6,991.1 519.5,990.4 521.3,990.2 523.2,988.9 525.1,991.1 527,991.1 528.9,990.8 530.7,990.3 532.6,990.1 534.5,990.7 536.4,991.3 538.3,993 540.2,993.3 542,994 543.9,993 545.8,992.2 547.7,988.5 549.6,989 551.4,990.3 553.3,991.5 555.2,993.5 557.1,993.9 559,995.6 560.8,992.1 562.7,991.2 564.6,990.6 566.5,989.6 568.4,989.2 570.2,988.4 572.1,988.7 574,989.3 575.9,991.7 577.8,994.5 579.7,992.9 581.5,990.3 583.4,990.7 585.3,990.6 587.2,991.3 589.1,990 590.9,991.1 592.8,992.5 594.7,990.7 596.6,991.7 598.5,990.1 600.3,991.7 602.2,988.5 604.1,988.5 606,988.1 607.9,986.6 609.7,984.7 611.6,983.7 613.5,985.8 615.4,986.6 617.3,987 619.2,989.8 621,991.6 622.9,992.4 624.8,992.2 626.7,993.3 628.6,993.9 630.4,990.8 632.3,988.8 634.2,989.8 636.1,990.1 638,989.6 639.8,989 641.7,991.4 643.6,992.3 645.5,991.6 647.4,990.1 649.2,988.5 651.1,989.1 653,990.2 654.9,990.3 656.8,988.4 658.7,988.7 660.5,990.3 662.4,990.1 664.3,986.8 666.2,985.8 668.1,987.5 669.9,990.4 671.8,991.1 673.7,988.4 675.6,987.3 677.5,985.9 679.3,986.8 681.2,989.6 683.1,990 685,991 686.9,987.7 688.8,988.4 690.6,989.4 692.5,989.3 694.4,988.5 696.3,986.6 698.2,985.8 700,985.5 701.9,986.4 703.8,987.5 705.7,987.4 707.6,984.8 709.4,985.1 711.3,985.5 713.2,989.3 715.1,988.1 717,986.3 718.8,982.4 720.7,982.4 722.6,983.8 724.5,986.2 726.4,985.1 728.3,984.6 730.1,985.4 732,987.2 733.9,987.4 735.8,985.9 737.7,984.1 739.5,982.9 741.4,982.7 743.3,985.8 745.2,988.6 747.1,989 748.9,988.3 750.8,987.5 752.7,988.9 754.6,987.4 756.5,987.2 758.3,987 760.2,986.3 762.1,986 764,985.2 765.9,987 767.8,987.7 769.6,988 771.5,988.7 773.4,989.6 775.3,989.4 777.2,990.7 779,988.6 780.9,988 782.8,985.9 784.7,985.5 786.6,984.1 788.4,982.2 790.3,984.4 792.2,985.3 794.1,985.2 796,986 797.8,987.1 799.7,988.8 801.6,985.6 803.5,985.5 805.4,984.7 807.3,986 809.1,985.6 811,985.9 812.9,985.9 814.8,984.9 816.7,984.6 818.5,983.5 820.4,984.9 822.3,986.1 824.2,987.9 826.1,985.3 827.9,986.4 829.8,985.2 831.7,987.2 833.6,985.2 835.5,985.4 837.3,986.9 839.2,987.1 841.1,987.4 843,987.1 844.9,988.4 846.8,986.9 848.6,984.5 850.5,980.9 852.4,979.8 854.3,981.5 856.2,983.7 858,985.8 859.9,985.8 861.8,986 863.7,987.3 865.6,988.8 867.4,987.6 869.3,987.9 871.2,987.2 873.1,987.1 875,985.7 876.9,984 878.7,983 880.6,982.8 882.5,981.4 884.4,983.3 886.3,982.1 888.1,983.5 890,984.3 891.9,985.5 893.8,985 895.7,984.3 897.5,984.9 899.4,986.8 901.3,985.6 903.2,986 905.1,984.7 906.9,985 908.8,985 910.7,985.8 912.6,987.1 914.5,985.9 916.4,983.1 918.2,982.8 920.1,983.2 922,985 923.9,986.3 925.8,985.8 927.6,987.7 929.5,987.1 931.4,986.1 933.3,983.2 935.2,981.4 937,982 938.9,983.6 940.8,983.1 942.7,981.9 944.6,983.4 946.4,983.9 948.3,985.2 950.2,984.6 952.1,984.5 954,981.4 955.9,979.7 957.7,978.7 959.6,982 961.5,979.2 963.4,979.7 965.3,979.1 967.1,982.2 969,982.5 970.9,982.1 972.8,979.8 974.7,977.9 976.5,974.8 978.4,974.8 980.3,975.3 982.2,975.6 984.1,971.9 985.9,966.5 987.8,962.7 989.7,962.4 991.6,960.3 993.5,955 995.4,946.8 997.2,939.8 999.1,930.2 1001,917.2 1002.9,899.7 1004.8,880.4 1006.6,862.6 1008.5,844.4 1010.4,835.6 1012.3,835.6 1014.2,846.5 1016,860.7 1017.9,875.1 1019.8,889.5 1021.7,901.9 1023.6,911.4 1025.4,919 1027.3,925.8 1029.2,933.5 1031.1,937.9 1033,942.4 1034.9,943.5 1036.7,945.6 1038.6,945.8 1040.5,948.5 1042.4,949.9 1044.3,953.3 1046.1,954 1048,958.6 1049.9,958.1 1051.8,960.8 1053.7,961.4 1055.5,964.3 1057.4,963.3 1059.3,962.9 1061.2,962.8 1063.1,963.8 1065,965 1066.8,965.2 1068.7,966.1 1070.6,966.8 1072.5,967.1 1074.4,966.9 1076.2,966.2 1078.1,966.1 1080,964.2 1081.9,963.7 1083.8,964.3 1085.6,965.8 1087.5,964.5 1089.4,965.4 1091.3,966.1 1093.2,969.1 1095,969.2 1096.9,971.8 1098.8,971.8 1100.7,972.4 1102.6,972.3 1104.5,971.4 1106.3,971.6 1108.2,971.5 1110.1,969.9 1112,967.6 1113.9,966.4 1115.7,970.3 1117.6,971.1 1119.5,969.5 1121.4,965.9 1123.3,966.6 1125.1,968.2 1127,969.2 1128.9,969.1 1130.8,968.5 1132.7,970.4 1134.5,968.5 1136.4,968.3 1138.3,968.2 1140.2,969 1142.1,968.6 1144,966.9 1145.8,969.6 1147.7,970.8 1149.6,972.6 1151.5,969.5 1153.4,968.9 1155.2,968 1157.1,969.3 1159,968.8 1160.9,965.5 1162.8,965.7 1164.6,967.1 1166.5,969.9 1168.4,967.4 1170.3,964.9 1172.2,963.6 1174,964.2 1175.9,966.8 1177.8,966.1 1179.7,966.8 1181.6,964.3 1183.5,963.5 1185.3,964.8 1187.2,966.1 1189.1,967.1 1191,965.9 1192.9,963.2 1194.7,965.6 1196.6,964.3 1198.5,964.5 1200.4,961.5 1202.3,962.8 1204.1,964.8 1206,966.6 1207.9,967 1209.8,966.9 1211.7,967.2 1213.5,964.3 1215.4,964.6 1217.3,963.9 1219.2,966.1 1221.1,965.3 1223,964.1 1224.8,962.9 1226.7,961.1 1228.6,961 1230.5,962.7 1232.4,966.1 1234.2,966 1236.1,964.1 1238,961.8 1239.9,962.1 1241.8,962.5 1243.6,963.5 1245.5,965.2 1247.4,962.9" fill="none" stroke="#0f5f7f" stroke-width="8" stroke-linejoin="round" stroke-linecap="round" />
<polyline points="199.7,1143.5 201.6,1141.8 203.5,1141.1 205.3,1138.5 207.2,1137.1 209.1,1135.6 211,1136 212.9,1136.5 214.7,1136.9 216.6,1137.9 218.5,1139.5 220.4,1140.2 222.3,1139.2 224.1,1138.1 226,1135.1 227.9,1135.7 229.8,1134 231.7,1136.3 233.5,1134.8 235.4,1136.5 237.3,1136.4 239.2,1135.9 241.1,1136.6 243,1134.6 244.8,1135.7 246.7,1132.4 248.6,1135.1 250.5,1133.3 252.4,1135.4 254.2,1135.5 256.1,1133.3 258,1132.1 259.9,1130.7 261.8,1133.8 263.6,1135.3 265.5,1134.9 267.4,1133.9 269.3,1131.9 271.2,1130.8 273,1129.6 274.9,1129.7 276.8,1128.6 278.7,1128.2 280.6,1127.7 282.5,1127.4 284.3,1124.5 286.2,1120.5 288.1,1117.8 290,1114.9 291.9,1110.2 293.7,1105.3 295.6,1103.8 297.5,1103.3 299.4,1102.4 301.3,1102 303.1,1101.5 305,1106 306.9,1107.3 308.8,1110.7 310.7,1113.1 312.6,1114.3 314.4,1116.4 316.3,1116 318.2,1117.9 320.1,1119.5 322,1121.6 323.8,1123.9 325.7,1125.2 327.6,1126.4 329.5,1129.1 331.4,1131.5 333.2,1128.4 335.1,1128.2 337,1127.7 338.9,1130.9 340.8,1128.5 342.6,1127.3 344.5,1126.8 346.4,1126.6 348.3,1128.7 350.2,1130.1 352.1,1131.9 353.9,1129.5 355.8,1130.1 357.7,1131 359.6,1133.4 361.5,1131.4 363.3,1133.6 365.2,1132.2 367.1,1135 369,1130 370.9,1130.5 372.7,1128.4 374.6,1127.8 376.5,1126.8 378.4,1125.3 380.3,1126.6 382.1,1126.5 384,1126.6 385.9,1128.6 387.8,1130 389.7,1131.7 391.6,1130.4 393.4,1129.3 395.3,1130.9 397.2,1131.5 399.1,1132.1 401,1129.4 402.8,1130.4 404.7,1131.5 406.6,1133.1 408.5,1133 410.4,1132.8 412.2,1131.6 414.1,1131.8 416,1129.8 417.9,1130.2 419.8,1130.5 421.6,1130.4 423.5,1131.2 425.4,1130.6 427.3,1130.3 429.2,1127.4 431.1,1125.1 432.9,1125.3 434.8,1127.6 436.7,1129.8 438.6,1132.5 440.5,1134.7 442.3,1133.9 444.2,1130.1 446.1,1125.7 448,1123.9 449.9,1125.4 451.7,1126.5 453.6,1130.3 455.5,1129.4 457.4,1129.7 459.3,1127.9 461.1,1129.5 463,1129.1 464.9,1131.8 466.8,1131.7 468.7,1132.4 470.6,1130.8 472.4,1131.2 474.3,1133.2 476.2,1131 478.1,1130.5 480,1127.8 481.8,1129.1 483.7,1130.3 485.6,1130.2 487.5,1128 489.4,1127 491.2,1126.5 493.1,1129.5 495,1129.6 496.9,1133.3 498.8,1133.2 500.6,1131.9 502.5,1129.9 504.4,1130.5 506.3,1131.5 508.2,1131.1 510.1,1129.5 511.9,1128.9 513.8,1127.9 515.7,1129.6 517.6,1130.6 519.5,1130 521.3,1129.8 523.2,1129.4 525.1,1131.3 527,1130.2 528.9,1131.6 530.7,1128.7 532.6,1128.5 534.5,1127.8 536.4,1130.2 538.3,1128.3 540.2,1126.2 542,1126.6 543.9,1130.2 545.8,1129.4 547.7,1128.5 549.6,1127.2 551.4,1129.7 553.3,1131 555.2,1132 557.1,1132.6 559,1130.3 560.8,1128.6 562.7,1126.4 564.6,1128.1 566.5,1130.3 568.4,1132.7 570.2,1135.4 572.1,1135.3 574,1135.4 575.9,1133.9 577.8,1131.5 579.7,1130.1 581.5,1129.6 583.4,1131.2 585.3,1132.1 587.2,1130.3 589.1,1128.2 590.9,1126.2 592.8,1129.4 594.7,1130.5 596.6,1132.8 598.5,1130.6 600.3,1130.5 602.2,1129.3 604.1,1128.9 606,1129.2 607.9,1130.4 609.7,1129.3 611.6,1129.3 613.5,1128 615.4,1129 617.3,1129.7 619.2,1131.8 621,1130.8 622.9,1130.2 624.8,1129.6 626.7,1132.1 628.6,1130.1 630.4,1129.4 632.3,1127.9 634.2,1129.3 636.1,1129.6 638,1128.8 639.8,1129.6 641.7,1129.7 643.6,1130.2 645.5,1128.7 647.4,1130.2 649.2,1129.8 651.1,1132.5 653,1129.2 654.9,1130.6 656.8,1128.5 658.7,1129.4 660.5,1129.4 662.4,1128.7 664.3,1128.3 666.2,1129.2 668.1,1129.5 669.9,1127.1 671.8,1126.4 673.7,1126.3 675.6,1129.3 677.5,1128.5 679.3,1128.5 681.2,1127.8 683.1,1128.6 685,1129.9 686.9,1128.7 688.8,1126.7 690.6,1124.8 692.5,1127.7 694.4,1129.4 696.3,1129.8 698.2,1128.1 700,1129.5 701.9,1129.2 703.8,1129 705.7,1128.3 707.6,1130.5 709.4,1131.7 711.3,1129.8 713.2,1128.9 715.1,1125.4 717,1126 718.8,1125.3 720.7,1127.4 722.6,1129.3 724.5,1129.8 726.4,1130.3 728.3,1129.8 730.1,1132.2 732,1131.5 733.9,1131.6 735.8,1129.2 737.7,1128.5 739.5,1127 741.4,1127.8 743.3,1129.4 745.2,1129.6 747.1,1129.3 748.9,1129.3 750.8,1129.6 752.7,1128.5 754.6,1129.5 756.5,1127.3 758.3,1128.8 760.2,1127.2 762.1,1130.9 764,1129.4 765.9,1127.6 767.8,1127.4 769.6,1129.9 771.5,1130.6 773.4,1130.6 775.3,1129.8 777.2,1130.8 779,1131.1 780.9,1129.9 782.8,1132.3 784.7,1133 786.6,1133.6 788.4,1132.1 790.3,1130.9 792.2,1129.2 794.1,1128.9 796,1128.8 797.8,1133.7 799.7,1135.9 801.6,1136.3 803.5,1132.8 805.4,1131.9 807.3,1131.7 809.1,1131.2 811,1130.6 812.9,1128.9 814.8,1130 816.7,1126.5 818.5,1129.8 820.4,1129.9 822.3,1132.5 824.2,1130.1 826.1,1128.8 827.9,1129.9 829.8,1132.3 831.7,1134.6 833.6,1134.4 835.5,1132.8 837.3,1132.6 839.2,1132.6 841.1,1132.2 843,1132.1 844.9,1132.9 846.8,1133 848.6,1133.4 850.5,1131.8 852.4,1130.3 854.3,1127.8 856.2,1129.7 858,1130.9 859.9,1133.1 861.8,1131.9 863.7,1132.4 865.6,1132.7 867.4,1132 869.3,1131.7 871.2,1133.2 873.1,1137.2 875,1138.2 876.9,1136.8 878.7,1133.9 880.6,1132.5 882.5,1133.2 884.4,1135.4 886.3,1137.2 888.1,1136.9 890,1134.7 891.9,1135.6 893.8,1135.3 895.7,1135.5 897.5,1135.4 899.4,1134.2 901.3,1133.8 903.2,1132.7 905.1,1132.5 906.9,1132.4 908.8,1133 910.7,1134.4 912.6,1135.1 914.5,1135.1 916.4,1135.1 918.2,1136.5 920.1,1136.7 922,1137.4 923.9,1135.2 925.8,1135.1 927.6,1134.1 929.5,1135.7 931.4,1134.5 933.3,1135.1 935.2,1134.2 937,1133.3 938.9,1132.8 940.8,1132.2 942.7,1131.1 944.6,1129.9 946.4,1129.6 948.3,1130.1 950.2,1129.8 952.1,1128.9 954,1128.1 955.9,1131.1 957.7,1130.4 959.6,1131.1 961.5,1127.3 963.4,1127 965.3,1125.3 967.1,1123.2 969,1121.7 970.9,1123.3 972.8,1122.4 974.7,1121.7 976.5,1119.7 978.4,1118 980.3,1119 982.2,1116 984.1,1117 985.9,1111.9 987.8,1108.2 989.7,1103.8 991.6,1100 993.5,1094.5 995.4,1088 997.2,1079.8 999.1,1068.9 1001,1054 1002.9,1037.4 1004.8,1017.5 1006.6,997.7 1008.5,978.2 1010.4,968 1012.3,967.9 1014.2,981.1 1016,998 1017.9,1015 1019.8,1029.5 1021.7,1042.7 1023.6,1053.2 1025.4,1058.4 1027.3,1065 1029.2,1071.1 1031.1,1080.5 1033,1084.3 1034.9,1088 1036.7,1089.5 1038.6,1093.3 1040.5,1097.7 1042.4,1101.7 1044.3,1105.3 1046.1,1103.5 1048,1102.1 1049.9,1102 1051.8,1102.9 1053.7,1105.8 1055.5,1109.7 1057.4,1110.4 1059.3,1111.1 1061.2,1107.9 1063.1,1110.3 1065,1109.4 1066.8,1107.7 1068.7,1106.9 1070.6,1106.5 1072.5,1107.4 1074.4,1108.2 1076.2,1109.8 1078.1,1110.5 1080,1111.7 1081.9,1111.8 1083.8,1113.7 1085.6,1113.8 1087.5,1113.2 1089.4,1115.6 1091.3,1116 1093.2,1118 1095,1115 1096.9,1114.5 1098.8,1114.5 1100.7,1114.1 1102.6,1114.5 1104.5,1115.4 1106.3,1116.1 1108.2,1116.1 1110.1,1113 1112,1113.6 1113.9,1113.9 1115.7,1115.3 1117.6,1115.8 1119.5,1115 1121.4,1114.8 1123.3,1115.6 1125.1,1117 1127,1117.6 1128.9,1118.4 1130.8,1117.4 1132.7,1117 1134.5,1115.8 1136.4,1118.5 1138.3,1118.3 1140.2,1117.2 1142.1,1114.2 1144,1114 1145.8,1112.9 1147.7,1113.9 1149.6,1115.7 1151.5,1117.7 1153.4,1117.4 1155.2,1115.8 1157.1,1115.8 1159,1115.7 1160.9,1115.4 1162.8,1114.9 1164.6,1113.4 1166.5,1113.8 1168.4,1112.7 1170.3,1114.7 1172.2,1114.2 1174,1115.6 1175.9,1113.1 1177.8,1114.1 1179.7,1114.4 1181.6,1115.9 1183.5,1114.7 1185.3,1113.1 1187.2,1113.4 1189.1,1114.3 1191,1114.5 1192.9,1112.6 1194.7,1111 1196.6,1111 1198.5,1111.6 1200.4,1113.4 1202.3,1114.7 1204.1,1115.6 1206,1114.7 1207.9,1113.5 1209.8,1114 1211.7,1112.8 1213.5,1114.1 1215.4,1114.2 1217.3,1115.4 1219.2,1114.5 1221.1,1113.7 1223,1115.7 1224.8,1116.3 1226.7,1115.5 1228.6,1110.5 1230.5,1112.1 1232.4,1113.8 1234.2,1116.8 1236.1,1112.6 1238,1111 1239.9,1110.2 1241.8,1113.6 1243.6,1115.1 1245.5,1114.4 1247.4,1113.5" fill="none" stroke="#136d8e" stroke-width="8" stroke-linejoin="round" stroke-linecap="round" />
<polyline points="199.7,1294.3 201.6,1294.8 203.5,1295.3 205.3,1296.3 207.2,1296 209.1,1296.8 211,1295.2 212.9,1296.4 214.7,1294.2 216.6,1298.6 218.5,1298.1 220.4,1299.7 222.3,1299.1 224.1,1298.4 226,1299.6 227.9,1298.2 229.8,1299.2 231.7,1299.5 233.5,1298.4 235.4,1296.5 237.3,1295.6 239.2,1296.2 241.1,1294.3 243,1296 244.8,1293.8 246.7,1293.8 248.6,1290.2 250.5,1292.9 252.4,1296.8 254.2,1297.7 256.1,1296.4 258,1294.5 259.9,1294 261.8,1294.2 263.6,1292.5 265.5,1292.9 267.4,1292.8 269.3,1290.9 271.2,1289.7 273,1288.8 274.9,1291.2 276.8,1289.5 278.7,1286.8 280.6,1283.9 282.5,1283.9 284.3,1282.5 286.2,1280.6 288.1,1278.6 290,1275.6 291.9,1271.8 293.7,1266.3 295.6,1262.8 297.5,1260.1 299.4,1255.1 301.3,1250.2 303.1,1247.9 305,1250.5 306.9,1253.6 308.8,1257.4 310.7,1261.6 312.6,1268 314.4,1272.7 316.3,1275.7 318.2,1277.7 320.1,1279.2 322,1282.8 323.8,1284.2 325.7,1288 327.6,1286.6 329.5,1291.9 331.4,1289.6 333.2,1293.5 335.1,1290.1 337,1292.4 338.9,1291.1 340.8,1291.7 342.6,1294.6 344.5,1295.1 346.4,1294.6 348.3,1293.2 350.2,1294.1 352.1,1294.4 353.9,1294.5 355.8,1294 357.7,1296.2 359.6,1296.5 361.5,1296.5 363.3,1295.3 365.2,1295.6 367.1,1296 369,1294.9 370.9,1293.5 372.7,1292.7 374.6,1294 376.5,1297.1 378.4,1297.2 380.3,1298 382.1,1297.4 384,1298.3 385.9,1298.3 387.8,1298 389.7,1297.7 391.6,1297.4 393.4,1296.8 395.3,1297 397.2,1296.1 399.1,1294.2 401,1293.6 402.8,1295.8 404.7,1296.8 406.6,1298.1 408.5,1297.1 410.4,1297 412.2,1293 414.1,1292.8 416,1292.8 417.9,1293.9 419.8,1294.2 421.6,1294.4 423.5,1296.5 425.4,1295.3 427.3,1295.5 429.2,1294.6 431.1,1296.4 432.9,1296.3 434.8,1295.3 436.7,1294.4 438.6,1294.3 440.5,1295.5 442.3,1293.9 444.2,1294.9 446.1,1294.3 448,1297.4 449.9,1295.5 451.7,1296.3 453.6,1294.6 455.5,1295.4 457.4,1298.1 459.3,1297.6 461.1,1299.6 463,1297.4 464.9,1297.2 466.8,1296.3 468.7,1296.5 470.6,1298.2 472.4,1295.4 474.3,1295 476.2,1293.6 478.1,1294.8 480,1294.1 481.8,1294.5 483.7,1296.3 485.6,1296.8 487.5,1294.7 489.4,1294.3 491.2,1293.9 493.1,1296 495,1292.7 496.9,1292.9 498.8,1292.2 500.6,1295.1 502.5,1295.1 504.4,1296.4 506.3,1295 508.2,1292.5 510.1,1292.6 511.9,1293.4 513.8,1294.9 515.7,1293.2 517.6,1291.8 519.5,1290.2 521.3,1289.4 523.2,1290.2 525.1,1293.7 527,1295.3 528.9,1297 530.7,1294.1 532.6,1294.8 534.5,1292.6 536.4,1295.1 538.3,1294.9 540.2,1295.2 542,1293.7 543.9,1293.5 545.8,1292.4 547.7,1289.8 549.6,1289.1 551.4,1292 553.3,1292.1 555.2,1291.2 557.1,1287.3 559,1288.7 560.8,1287.1 562.7,1289 564.6,1288.3 566.5,1288.8 568.4,1286.3 570.2,1287.2 572.1,1286.4 574,1286.6 575.9,1285.3 577.8,1283.8 579.7,1283.6 581.5,1281.4 583.4,1282.1 585.3,1281.4 587.2,1282.1 589.1,1281.6 590.9,1280.6 592.8,1281.1 594.7,1281 596.6,1280.9 598.5,1279.9 600.3,1279 602.2,1279.4 604.1,1279.3 606,1278.3 607.9,1280.4 609.7,1280.6 611.6,1282.2 613.5,1281.3 615.4,1280 617.3,1280.9 619.2,1281.5 621,1284 622.9,1285.1 624.8,1284.8 626.7,1285.3 628.6,1285.8 630.4,1286.9 632.3,1286.7 634.2,1287.5 636.1,1288.1 638,1289.1 639.8,1288.6 641.7,1288.8 643.6,1291.1 645.5,1293.2 647.4,1292.5 649.2,1291 651.1,1289.5 653,1291.1 654.9,1291.8 656.8,1292.9 658.7,1294.1 660.5,1294.7 662.4,1294.9 664.3,1294.2 666.2,1293.3 668.1,1292.9 669.9,1292.4 671.8,1292.8 673.7,1294.7 675.6,1295.7 677.5,1293.5 679.3,1291.1 681.2,1290.5 683.1,1293.5 685,1293.6 686.9,1293.4 688.8,1293.1 690.6,1293.6 692.5,1294.7 694.4,1295.1 696.3,1295.1 698.2,1294.2 700,1294.3 701.9,1293.8 703.8,1293.6 705.7,1294.3 707.6,1296.6 709.4,1294.7 711.3,1296.8 713.2,1295.1 715.1,1298.5 717,1294.6 718.8,1296.1 720.7,1295.3 722.6,1296.8 724.5,1295.8 726.4,1295.6 728.3,1296.6 730.1,1296.2 732,1296.3 733.9,1295.2 735.8,1294.3 737.7,1294.8 739.5,1295.2 741.4,1296.5 743.3,1295.1 745.2,1294.8 747.1,1295.3 748.9,1296.8 750.8,1297.3 752.7,1296.3 754.6,1297.4 756.5,1298.3 758.3,1300.5 760.2,1300 762.1,1300.6 764,1300.6 765.9,1301.4 767.8,1300.4 769.6,1299.9 771.5,1299.4 773.4,1298.4 775.3,1298.1 777.2,1297.7 779,1297.9 780.9,1295.6 782.8,1294.9 784.7,1294.8 786.6,1298.3 788.4,1297 790.3,1297.1 792.2,1297.9 794.1,1297.5 796,1298.1 797.8,1295.8 799.7,1296.5 801.6,1296.9 803.5,1296.7 805.4,1295.7 807.3,1295.1 809.1,1294.7 811,1298.8 812.9,1299.5 814.8,1299.8 816.7,1298.9 818.5,1301 820.4,1300.9 822.3,1299.6 824.2,1297.6 826.1,1299 827.9,1300.3 829.8,1298.9 831.7,1299 833.6,1297.7 835.5,1298.5 837.3,1299.4 839.2,1299.9 841.1,1301.5 843,1300.2 844.9,1301.3 846.8,1301 848.6,1302.1 850.5,1302.9 852.4,1302.2 854.3,1303.5 856.2,1303.5 858,1305.6 859.9,1305.1 861.8,1304.2 863.7,1303.3 865.6,1302.6 867.4,1303.6 869.3,1305.7 871.2,1307.8 873.1,1311.3 875,1311.7 876.9,1311.7 878.7,1308.2 880.6,1305.6 882.5,1304 884.4,1304 886.3,1304 888.1,1303.9 890,1304.9 891.9,1306.2 893.8,1307.6 895.7,1308 897.5,1308.6 899.4,1309.1 901.3,1308.5 903.2,1308.3 905.1,1308.6 906.9,1309.8 908.8,1308.1 910.7,1306.7 912.6,1307.2 914.5,1309.2 916.4,1310.2 918.2,1306.8 920.1,1306.6 922,1303 923.9,1305.1 925.8,1303.1 927.6,1306.5 929.5,1304.8 931.4,1306 933.3,1304.5 935.2,1305 937,1302.9 938.9,1303.1 940.8,1302.2 942.7,1306.1 944.6,1304.7 946.4,1305.1 948.3,1301.8 950.2,1303.4 952.1,1304.3 954,1304.8 955.9,1303.6 957.7,1300.5 959.6,1298.2 961.5,1297.8 963.4,1297.1 965.3,1297 967.1,1293.1 969,1292.7 970.9,1292.3 972.8,1292.7 974.7,1290.2 976.5,1289.1 978.4,1287.7 980.3,1284.7 982.2,1280.5 984.1,1277.5 985.9,1276.8 987.8,1274.8 989.7,1272.4 991.6,1268.3 993.5,1262.5 995.4,1256.2 997.2,1249.9 999.1,1239.7 1001,1227.7 1002.9,1208.9 1004.8,1192.8 1006.6,1171.7 1008.5,1155 1010.4,1143.1 1012.3,1144.5 1014.2,1157.7 1016,1173.9 1017.9,1188.9 1019.8,1200.2 1021.7,1210.7 1023.6,1218.6 1025.4,1226.6 1027.3,1232.4 1029.2,1239.1 1031.1,1245.1 1033,1250 1034.9,1252.2 1036.7,1256.2 1038.6,1259.3 1040.5,1264.1 1042.4,1264.3 1044.3,1265.9 1046.1,1266.7 1048,1270.3 1049.9,1270.4 1051.8,1272.7 1053.7,1272 1055.5,1274.8 1057.4,1273.9 1059.3,1272.8 1061.2,1273.5 1063.1,1274.2 1065,1276.9 1066.8,1277.1 1068.7,1276.1 1070.6,1275.4 1072.5,1274.8 1074.4,1277.6 1076.2,1279.2 1078.1,1280.5 1080,1280 1081.9,1281.1 1083.8,1280.6 1085.6,1281 1087.5,1279.2 1089.4,1278.2 1091.3,1278.5 1093.2,1279.4 1095,1281.1 1096.9,1283.5 1098.8,1283.7 1100.7,1283.9 1102.6,1280.4 1104.5,1279.9 1106.3,1279.6 1108.2,1281.6 1110.1,1281.7 1112,1282.1 1113.9,1280.6 1115.7,1282.1 1117.6,1282.9 1119.5,1282.8 1121.4,1280 1123.3,1278.2 1125.1,1279.7 1127,1280.3 1128.9,1281.2 1130.8,1281.9 1132.7,1283.9 1134.5,1284.9 1136.4,1282.6 1138.3,1279.4 1140.2,1278.8 1142.1,1279.5 1144,1280.8 1145.8,1279.2 1147.7,1279.3 1149.6,1280.7 1151.5,1280.3 1153.4,1279.5 1155.2,1280 1157.1,1282.2 1159,1281.8 1160.9,1278.7 1162.8,1278.4 1164.6,1281.1 1166.5,1285.2 1168.4,1285.4 1170.3,1285.2 1172.2,1282.7 1174,1282.1 1175.9,1280.9 1177.8,1282.4 1179.7,1282.7 1181.6,1284.3 1183.5,1283.4 1185.3,1281.9 1187.2,1280.8 1189.1,1281.6 1191,1282.9 1192.9,1281.1 1194.7,1281.1 1196.6,1280.2 1198.5,1283.4 1200.4,1282 1202.3,1281.5 1204.1,1280.9 1206,1280 1207.9,1282.1 1209.8,1280.7 1211.7,1282.6 1213.5,1279.8 1215.4,1280.4 1217.3,1279.2 1219.2,1282.3 1221.1,1281.5 1223,1281.8 1224.8,1279.3 1226.7,1280.1 1228.6,1280.4 1230.5,1282.4 1232.4,1283.2 1234.2,1281.4 1236.1,1282.1 1238,1281.5 1239.9,1284.3 1241.8,1282 1243.6,1282.7 1245.5,1281.3 1247.4,1281.4" fill="none" stroke="#1a78a0" stroke-width="8" stroke-linejoin="round" stroke-linecap="round" />
<line x1="525" y1="792" x2="525" y2="1150" stroke="#111" stroke-width="3.5"/>
<polygon points="504,1141 547,1141 525.5,1179" fill="#111"/>
<rect x="192.5" y="49" width="1057.0" height="1390" fill="none" stroke="#2b2b2b" stroke-width="5"/>
<line x1="218.5" y1="49" x2="218.5" y2="71" stroke="#2b2b2b" stroke-width="4.5"/>
<line x1="218.5" y1="1439" x2="218.5" y2="1417" stroke="#2b2b2b" stroke-width="4.5"/>
<line x1="406.6" y1="49" x2="406.6" y2="71" stroke="#2b2b2b" stroke-width="4.5"/>
<line x1="406.6" y1="1439" x2="406.6" y2="1417" stroke="#2b2b2b" stroke-width="4.5"/>
<line x1="594.7" y1="49" x2="594.7" y2="71" stroke="#2b2b2b" stroke-width="4.5"/>
<line x1="594.7" y1="1439" x2="594.7" y2="1417" stroke="#2b2b2b" stroke-width="4.5"/>
<line x1="782.8" y1="49" x2="782.8" y2="71" stroke="#2b2b2b" stroke-width="4.5"/>
<line x1="782.8" y1="1439" x2="782.8" y2="1417" stroke="#2b2b2b" stroke-width="4.5"/>
<line x1="970.9" y1="49" x2="970.9" y2="71" stroke="#2b2b2b" stroke-width="4.5"/>
<line x1="970.9" y1="1439" x2="970.9" y2="1417" stroke="#2b2b2b" stroke-width="4.5"/>
<line x1="1159" y1="49" x2="1159" y2="71" stroke="#2b2b2b" stroke-width="4.5"/>
<line x1="1159" y1="1439" x2="1159" y2="1417" stroke="#2b2b2b" stroke-width="4.5"/>
<line x1="192.5" y1="142" x2="209.5" y2="142" stroke="#2b2b2b" stroke-width="4.5"/>
<line x1="1249.5" y1="142" x2="1232.5" y2="142" stroke="#2b2b2b" stroke-width="4.5"/>
<line x1="192.5" y1="304.2" x2="209.5" y2="304.2" stroke="#2b2b2b" stroke-width="4.5"/>
<line x1="1249.5" y1="304.2" x2="1232.5" y2="304.2" stroke="#2b2b2b" stroke-width="4.5"/>
<line x1="192.5" y1="466.4" x2="209.5" y2="466.4" stroke="#2b2b2b" stroke-width="4.5"/>
<line x1="1249.5" y1="466.4" x2="1232.5" y2="466.4" stroke="#2b2b2b" stroke-width="4.5"/>
<line x1="192.5" y1="628.6" x2="209.5" y2="628.6" stroke="#2b2b2b" stroke-width="4.5"/>
<line x1="1249.5" y1="628.6" x2="1232.5" y2="628.6" stroke="#2b2b2b" stroke-width="4.5"/>
<line x1="192.5" y1="790.8" x2="209.5" y2="790.8" stroke="#2b2b2b" stroke-width="4.5"/>
<line x1="1249.5" y1="790.8" x2="1232.5" y2="790.8" stroke="#2b2b2b" stroke-width="4.5"/>
<line x1="192.5" y1="953" x2="209.5" y2="953" stroke="#2b2b2b" stroke-width="4.5"/>
<line x1="1249.5" y1="953" x2="1232.5" y2="953" stroke="#2b2b2b" stroke-width="4.5"/>
<line x1="192.5" y1="1115.2" x2="209.5" y2="1115.2" stroke="#2b2b2b" stroke-width="4.5"/>
<line x1="1249.5" y1="1115.2" x2="1232.5" y2="1115.2" stroke="#2b2b2b" stroke-width="4.5"/>
<line x1="192.5" y1="1277.4" x2="209.5" y2="1277.4" stroke="#2b2b2b" stroke-width="4.5"/>
<line x1="1249.5" y1="1277.4" x2="1232.5" y2="1277.4" stroke="#2b2b2b" stroke-width="4.5"/>
<text transform="translate(36.5,111) scale(0.86,1)" font-size="107" fill="#111" stroke="#111" stroke-width="1.4">a</text><text transform="translate(103.6,113.5) scale(0.82,1)" font-size="110" fill="#111" stroke="#111" stroke-width="1.4">)</text>
<text x="782" y="186" font-size="73" text-anchor="start" font-weight="normal" fill="#111" stroke="#111" stroke-width="1.4" >TiS<tspan font-size="49.6" dy="24.8">3</tspan></text>
<text x="550" y="965.5" font-size="73" text-anchor="start" font-weight="normal" fill="#111" stroke="#111" stroke-width="1.4" >Heating</text>
<text x="584.5" y="1056" font-size="73" text-anchor="start" font-weight="normal" fill="#111" stroke="#111" stroke-width="1.4" >Cycle</text>
<text x="316" y="1376" font-size="73" text-anchor="start" font-weight="normal" fill="#111" stroke="#111" stroke-width="1.4" >TiO<tspan font-size="49.6" dy="24.8">2</tspan></text>
<text x="1023" y="1374.5" font-size="73" text-anchor="start" font-weight="normal" fill="#111" stroke="#111" stroke-width="1.4" >Si</text>
<text x="419.5" y="1533.5" font-size="92" text-anchor="middle" font-weight="normal" fill="#111" stroke="#111" stroke-width="1.4" >200</text>
<text x="779" y="1533.5" font-size="92" text-anchor="middle" font-weight="normal" fill="#111" stroke="#111" stroke-width="1.4" >400</text>
<text x="1165" y="1533.5" font-size="92" text-anchor="middle" font-weight="normal" fill="#111" stroke="#111" stroke-width="1.4" >600</text>
<text transform="translate(380,1637) scale(1.02,1)" font-size="92" text-anchor="start" font-weight="normal" fill="#111" stroke="#111" stroke-width="1.4">Raman Shift (cm<tspan font-size="54" dy="-33">-1</tspan><tspan dy="33">)</tspan></text>
<text transform="translate(131,758) rotate(-90)" font-size="94" text-anchor="middle" fill="#111" stroke="#111" stroke-width="1.4">Intensity (#)</text>
<line x1="1516.5" y1="1389.0" x2="2363" y2="1389.0" stroke="#aaa" stroke-width="3" stroke-dasharray="4,4"/>
<line x1="1574.5" y1="684" x2="1574.5" y2="892" stroke="#444" stroke-width="4" stroke-dasharray="52,4,4,4"/>
<polygon points="1551,891 1595,891 1573.5,926.5" fill="#0a0a0a"/>
<line x1="2314" y1="990" x2="2314" y2="1119" stroke="#444" stroke-width="4" stroke-dasharray="52,4,4,4"/>
<polygon points="2293.5,1118 2334.5,1118 2314,1154.5" fill="#0a0a0a"/>
<polyline points="1580,1389 1701,1389 1823,1389 1941,1389 2068,1281.9 2189,1260.8 2312,1225.1" fill="none" stroke="#1a1a1a" stroke-width="2.8" stroke-linejoin="round" stroke-linecap="round" />
<polyline points="1576,191.6 1703,1064.5 1830,1131 1943,1389 2068,1389 2189,1389 2312,1389" fill="none" stroke="#1a1a1a" stroke-width="2.8" stroke-linejoin="round" stroke-linecap="round" />
<rect x="1544" y="485" width="524" height="198" fill="#a17587" stroke="#3a3a3a" stroke-width="4"/>
<rect x="1567" y="521" width="470" height="6" fill="#e064a8" opacity="0.8"/>
<linearGradient id="g1" x1="0" x2="1" y1="0" y2="0"><stop offset="0" stop-color="#dde88e"/><stop offset="0.2" stop-color="#cfe691"/><stop offset="0.35" stop-color="#a8da90"/><stop offset="1" stop-color="#a6d98f"/></linearGradient>
<rect x="1567" y="526" width="470" height="70" fill="url(#g1)"/>
<rect x="1567" y="526" width="470" height="7" fill="#6cc08c" opacity="0.7"/>
<rect x="1567" y="585" width="470" height="12" fill="#3f8a92"/>
<rect x="1567" y="582" width="470" height="4" fill="#e8ea9c" opacity="0.6"/>
<text x="1651" y="578" font-size="53" text-anchor="start" font-weight="normal" fill="#111" stroke="#111" stroke-width="1.4" >TiS<tspan font-size="36.0" dy="18.0">3</tspan></text>
<text x="1873" y="622" font-size="62" text-anchor="start" font-weight="normal" fill="#111" stroke="#111" stroke-width="1.4" >5 µm</text>
<rect x="1870" y="643" width="144" height="16" fill="#050505"/>
<rect x="1812" y="792" width="523" height="197" fill="#9c7689" stroke="#2a2a2a" stroke-width="4"/>
<rect x="1842" y="898" width="466" height="10" fill="#e07ea0" opacity="0.8"/>
<rect x="1842" y="832" width="466" height="70" fill="#efeb84"/>
<linearGradient id="g2" x1="0" x2="1" y1="0" y2="0"><stop offset="0" stop-color="#5a8a70"/><stop offset="0.18" stop-color="#5a8a70"/><stop offset="0.2" stop-color="#9a2e20"/><stop offset="0.7" stop-color="#a03a22"/><stop offset="1" stop-color="#a86a3a"/></linearGradient>
<rect x="1842" y="832" width="466" height="6" fill="url(#g2)"/>
<rect x="1842" y="895" width="466" height="7" fill="#a04a2a"/>
<rect x="1842" y="832" width="5" height="70" fill="#4a9a8a"/>
<text x="1928" y="885" font-size="53" text-anchor="start" font-weight="normal" fill="#111" stroke="#111" stroke-width="1.4" >TiO<tspan font-size="36.0" dy="18.0">2</tspan></text>
<rect x="2138" y="951" width="144" height="18" fill="#050505"/>
<rect x="1557.5" y="1366.5" width="45" height="45" fill="#0b68b2" stroke="#2a2a2a" stroke-width="3"/>
<rect x="1678.5" y="1366.5" width="45" height="45" fill="#0b68b2" stroke="#2a2a2a" stroke-width="3"/>
<rect x="1800.5" y="1366.5" width="45" height="45" fill="#0b68b2" stroke="#2a2a2a" stroke-width="3"/>
<rect x="1918.5" y="1366.5" width="45" height="45" fill="#0b68b2" stroke="#2a2a2a" stroke-width="3"/>
<rect x="2045.5" y="1259.4" width="45" height="45" fill="#0b68b2" stroke="#2a2a2a" stroke-width="3"/>
<rect x="2166.5" y="1238.3" width="45" height="45" fill="#0b68b2" stroke="#2a2a2a" stroke-width="3"/>
<rect x="2289.5" y="1202.6" width="45" height="45" fill="#0b68b2" stroke="#2a2a2a" stroke-width="3"/>
<circle cx="1576" cy="191.6" r="24" fill="#e8141c" stroke="#2a2a2a" stroke-width="3"/>
<circle cx="1703" cy="1064.5" r="24" fill="#e8141c" stroke="#2a2a2a" stroke-width="3"/>
<circle cx="1830" cy="1131" r="24" fill="#e8141c" stroke="#2a2a2a" stroke-width="3"/>
<circle cx="1943" cy="1389" r="24" fill="#e8141c" stroke="#2a2a2a" stroke-width="3"/>
<circle cx="2068" cy="1389" r="24" fill="#e8141c" stroke="#2a2a2a" stroke-width="3"/>
<circle cx="2189" cy="1389" r="24" fill="#e8141c" stroke="#2a2a2a" stroke-width="3"/>
<circle cx="2312" cy="1389" r="24" fill="#e8141c" stroke="#2a2a2a" stroke-width="3"/>
<circle cx="1814.5" cy="157.5" r="19.5" fill="#e8141c" stroke="#2a2a2a" stroke-width="3"/>
<rect x="1796" y="254" width="37.5" height="36.5" fill="#0b68b2" stroke="#2a2a2a" stroke-width="3"/>
<text transform="translate(1881,184) scale(0.975,1)" font-size="74" text-anchor="start" font-weight="normal" fill="#111" stroke="#111" stroke-width="1.4">TiS<tspan font-size="48" dy="27">3</tspan><tspan dy="-27"> 301 cm</tspan><tspan font-size="44" dy="-25">-1</tspan></text>
<text transform="translate(1881,296) scale(0.975,1)" font-size="74" text-anchor="start" font-weight="normal" fill="#111" stroke="#111" stroke-width="1.4">TiO<tspan font-size="48" dy="27">2</tspan><tspan dy="-27"> 142 cm</tspan><tspan font-size="44" dy="-25">-1</tspan></text>
<rect x="1516.5" y="48.6" width="846.5" height="1389.4" fill="none" stroke="#2b2b2b" stroke-width="5"/>
<line x1="1575" y1="48.6" x2="1575" y2="70.6" stroke="#2b2b2b" stroke-width="4.5"/>
<line x1="1575" y1="1438" x2="1575" y2="1416" stroke="#2b2b2b" stroke-width="4.5"/>
<text x="1583" y="1532" font-size="90" text-anchor="middle" font-weight="normal" fill="#111" stroke="#111" stroke-width="1.4" >0</text>
<line x1="1697.6" y1="48.6" x2="1697.6" y2="70.6" stroke="#2b2b2b" stroke-width="4.5"/>
<line x1="1697.6" y1="1438" x2="1697.6" y2="1416" stroke="#2b2b2b" stroke-width="4.5"/>
<text x="1703" y="1532" font-size="90" text-anchor="middle" font-weight="normal" fill="#111" stroke="#111" stroke-width="1.4" >1</text>
<line x1="1820.2" y1="48.6" x2="1820.2" y2="70.6" stroke="#2b2b2b" stroke-width="4.5"/>
<line x1="1820.2" y1="1438" x2="1820.2" y2="1416" stroke="#2b2b2b" stroke-width="4.5"/>
<text x="1823" y="1532" font-size="90" text-anchor="middle" font-weight="normal" fill="#111" stroke="#111" stroke-width="1.4" >2</text>
<line x1="1942.8" y1="48.6" x2="1942.8" y2="70.6" stroke="#2b2b2b" stroke-width="4.5"/>
<line x1="1942.8" y1="1438" x2="1942.8" y2="1416" stroke="#2b2b2b" stroke-width="4.5"/>
<text x="1941.5" y="1532" font-size="90" text-anchor="middle" font-weight="normal" fill="#111" stroke="#111" stroke-width="1.4" >3</text>
<line x1="2065.4" y1="48.6" x2="2065.4" y2="70.6" stroke="#2b2b2b" stroke-width="4.5"/>
<line x1="2065.4" y1="1438" x2="2065.4" y2="1416" stroke="#2b2b2b" stroke-width="4.5"/>
<text x="2068" y="1532" font-size="90" text-anchor="middle" font-weight="normal" fill="#111" stroke="#111" stroke-width="1.4" >4</text>
<line x1="2188" y1="48.6" x2="2188" y2="70.6" stroke="#2b2b2b" stroke-width="4.5"/>
<line x1="2188" y1="1438" x2="2188" y2="1416" stroke="#2b2b2b" stroke-width="4.5"/>
<text x="2189" y="1532" font-size="90" text-anchor="middle" font-weight="normal" fill="#111" stroke="#111" stroke-width="1.4" >5</text>
<line x1="2310.6" y1="48.6" x2="2310.6" y2="70.6" stroke="#2b2b2b" stroke-width="4.5"/>
<line x1="2310.6" y1="1438" x2="2310.6" y2="1416" stroke="#2b2b2b" stroke-width="4.5"/>
<text x="2311" y="1532" font-size="90" text-anchor="middle" font-weight="normal" fill="#111" stroke="#111" stroke-width="1.4" >6</text>
<line x1="1516.5" y1="1389" x2="1533.5" y2="1389" stroke="#2b2b2b" stroke-width="4.5"/>
<line x1="2363" y1="1389" x2="2346" y2="1389" stroke="#2b2b2b" stroke-width="4.5"/>
<line x1="1516.5" y1="1226.8" x2="1533.5" y2="1226.8" stroke="#2b2b2b" stroke-width="4.5"/>
<line x1="2363" y1="1226.8" x2="2346" y2="1226.8" stroke="#2b2b2b" stroke-width="4.5"/>
<line x1="1516.5" y1="1064.5" x2="1533.5" y2="1064.5" stroke="#2b2b2b" stroke-width="4.5"/>
<line x1="2363" y1="1064.5" x2="2346" y2="1064.5" stroke="#2b2b2b" stroke-width="4.5"/>
<line x1="1516.5" y1="902.2" x2="1533.5" y2="902.2" stroke="#2b2b2b" stroke-width="4.5"/>
<line x1="2363" y1="902.2" x2="2346" y2="902.2" stroke="#2b2b2b" stroke-width="4.5"/>
<line x1="1516.5" y1="740" x2="1533.5" y2="740" stroke="#2b2b2b" stroke-width="4.5"/>
<line x1="2363" y1="740" x2="2346" y2="740" stroke="#2b2b2b" stroke-width="4.5"/>
<line x1="1516.5" y1="577.8" x2="1533.5" y2="577.8" stroke="#2b2b2b" stroke-width="4.5"/>
<line x1="2363" y1="577.8" x2="2346" y2="577.8" stroke="#2b2b2b" stroke-width="4.5"/>
<line x1="1516.5" y1="415.5" x2="1533.5" y2="415.5" stroke="#2b2b2b" stroke-width="4.5"/>
<line x1="2363" y1="415.5" x2="2346" y2="415.5" stroke="#2b2b2b" stroke-width="4.5"/>
<line x1="1516.5" y1="253.2" x2="1533.5" y2="253.2" stroke="#2b2b2b" stroke-width="4.5"/>
<line x1="2363" y1="253.2" x2="2346" y2="253.2" stroke="#2b2b2b" stroke-width="4.5"/>
<line x1="1516.5" y1="91" x2="1533.5" y2="91" stroke="#2b2b2b" stroke-width="4.5"/>
<line x1="2363" y1="91" x2="2346" y2="91" stroke="#2b2b2b" stroke-width="4.5"/>
<text x="1490" y="1421" font-size="91" text-anchor="end" font-weight="normal" fill="#111" stroke="#111" stroke-width="1.4" >0</text>
<text x="1490" y="1096.5" font-size="91" text-anchor="end" font-weight="normal" fill="#111" stroke="#111" stroke-width="1.4" >1</text>
<text x="1490" y="772" font-size="91" text-anchor="end" font-weight="normal" fill="#111" stroke="#111" stroke-width="1.4" >2</text>
<text x="1490" y="447.5" font-size="91" text-anchor="end" font-weight="normal" fill="#111" stroke="#111" stroke-width="1.4" >3</text>
<text x="1490" y="123" font-size="91" text-anchor="end" font-weight="normal" fill="#111" stroke="#111" stroke-width="1.4" >4</text>
<text transform="translate(1304.2,111) scale(1.0,1)" font-size="107" fill="#111" stroke="#111" stroke-width="1.4">b</text><text transform="translate(1374.3,113.1) scale(0.82,1)" font-size="110" fill="#111" stroke="#111" stroke-width="1.4">)</text>
<text transform="translate(1650,1636) scale(1.01,1)" font-size="92" text-anchor="start" font-weight="normal" fill="#111" stroke="#111" stroke-width="1.4">Heating Cycle</text>
<text transform="translate(1399,752.5) rotate(-90)" font-size="93" text-anchor="middle" fill="#111" stroke="#111" stroke-width="1.4">Peak Intensity (#)</text>
<text transform="translate(35.5,1767) scale(1.0,1)" font-size="107" fill="#111" stroke="#111" stroke-width="1.4">c</text><text transform="translate(99.3,1769) scale(0.82,1)" font-size="110" fill="#111" stroke="#111" stroke-width="1.4">)</text>
<rect x="77" y="2001" width="1142" height="168" fill="#939598" stroke="#58595b" stroke-width="3"/>
<rect x="180" y="1901" width="936" height="100" fill="#0072bc" stroke="#1f4e79" stroke-width="2"/>
<rect x="692" y="1752" width="402" height="149" fill="#ed1c24" stroke="#8a1a1a" stroke-width="2"/>
<rect x="322" y="1841" width="268" height="60" fill="#00a651" stroke="#1a5a2a" stroke-width="2"/>
<rect x="796" y="1841" width="176" height="60" fill="#00a651" stroke="#1a5a2a" stroke-width="2"/>
<text x="830" y="1825" font-size="73" text-anchor="start" font-weight="normal" fill="#111" stroke="#111" stroke-width="1.4" >tBN</text>
<text x="312" y="1981" font-size="73" text-anchor="start" font-weight="normal" fill="#111" stroke="#111" stroke-width="1.4" >bBN</text>
<text x="208" y="2085" font-size="73" text-anchor="start" font-weight="normal" fill="#111" stroke="#111" stroke-width="1.4" >ITO</text>
<text transform="translate(367,1893) scale(0.7,1)" font-size="60" text-anchor="start" font-weight="bold" fill="#111" stroke="#111" stroke-width="1.4">1</text>
<text transform="translate(929,1893) scale(1.0,1)" font-size="60" text-anchor="start" font-weight="bold" fill="#111" stroke="#111" stroke-width="1.4">2</text>
<text x="461" y="1776" font-size="73" text-anchor="start" font-weight="normal" fill="#111" stroke="#111" stroke-width="1.4" >TiS<tspan font-size="49.6" dy="24.8">3</tspan></text>
<line x1="487" y1="1791" x2="443" y2="1852" stroke="#111" stroke-width="3"/>
<line x1="609" y1="1785" x2="830" y2="1871" stroke="#111" stroke-width="3"/>
<clipPath id="pc"><rect x="61" y="2202" width="1184" height="953"/></clipPath>
<clipPath id="bbnclip"><polygon points="40,2990 64,2971 124,2912.2 149.7,2797 139.5,2774 116.4,2770.2 116.4,2738.2 144.6,2635.8 148.4,2630.7 185,2612 537.6,2284.8 922.7,2216.8 936.7,2230.8 964.7,2356.7 950.7,2423.8 975.9,2510.6 1020.6,2555 1060,2563 1204,2704 1207.5,2740 1174,2900 450,3073.8 157.4,3145 101,3134.8 64,3086 40,3066"/></clipPath>
<rect x="59" y="2200" width="1188" height="957" fill="#e9eaeb"/>
<g clip-path="url(#pc)">
<polygon points="40,2990 64,2971 124,2912.2 149.7,2797 139.5,2774 116.4,2770.2 116.4,2738.2 144.6,2635.8 148.4,2630.7 185,2612 537.6,2284.8 922.7,2216.8 936.7,2230.8 964.7,2356.7 950.7,2423.8 975.9,2510.6 1020.6,2555 1060,2563 1204,2704 1207.5,2740 1174,2900 450,3073.8 157.4,3145 101,3134.8 64,3086 40,3066" fill="#e3eae8"/>
<polygon points="908.6,2434.7 1229.8,2559.8 1243.7,2587.5 1265,2600 1265,3044 1243.7,3044 1066.6,3053 1042,3082.4 976,3073.8 959,3056.4 872,3044 854.7,2841 830.4,2771.6 844.3,2535.4" fill="#e5e7e3"/>
<polygon points="908.6,2434.7 1229.8,2559.8 1243.7,2587.5 1265,2600 1265,3044 1243.7,3044 1066.6,3053 1042,3082.4 976,3073.8 959,3056.4 872,3044 854.7,2841 830.4,2771.6 844.3,2535.4" fill="#ebe5ec" clip-path="url(#bbnclip)"/>
<polygon points="586.7,2796.7 680,2840 710,2883 703,2943 633,2960 626.7,2980 486.7,2966.7 440,2913 476.7,2840 533,2803" fill="#e6e8e6" stroke="#dfe8d6" stroke-width="3"/>
<polygon points="882,2782 983,2754 1063,2851 1000,2870 903,2886" fill="#e2e6e0" opacity="0.6"/>
<radialGradient id="glow"><stop offset="0" stop-color="#e8c8d8"/><stop offset="0.35" stop-color="#cde9cd"/><stop offset="1" stop-color="#d4ecd4" stop-opacity="0"/></radialGradient>
<circle cx="712" cy="2643" r="42" fill="url(#glow)"/>
<polyline points="64,2971 124,2912.2 149.7,2797 139.5,2774 116.4,2770.2 116.4,2738.2 144.6,2635.8 148.4,2630.7 185,2612 537.6,2284.8 922.7,2216.8 936.7,2230.8 964.7,2356.7 950.7,2423.8 975.9,2510.6 1020.6,2555 1060,2563 1204,2704 1207.5,2740 1174,2900 450,3073.8 157.4,3145 101,3134.8 64,3086" fill="none" stroke="#4290d2" stroke-width="3.5" stroke-linejoin="round"/>
<polyline points="65,2996.6 134.3,2932.7 177.8,2797 172.7,2784.2 131.8,2748.4 162.5,2641 203.4,2630.7 211,2611.5 231.6,2600 536,2318 556,2306.5 914,2237.8 914,2261.6 942,2379 928,2424 948,2519 1009,2577.7 1048.6,2580.5 1189.5,2718.6 1158,2887 450,3054.8 157.4,3127 111.3,3114.4 65,3063" fill="none" stroke="#9d90cc" stroke-width="3.5" stroke-linejoin="round"/>
<polygon points="908.6,2434.7 1229.8,2559.8 1243.7,2587.5 1265,2600 1265,3044 1243.7,3044 1066.6,3053 1042,3082.4 976,3073.8 959,3056.4 872,3044 854.7,2841 830.4,2771.6 844.3,2535.4" fill="none" stroke="#ee6655" stroke-width="3" stroke-linejoin="round"/>
<line x1="249.5" y1="3017" x2="730" y2="2630" stroke="#eadcea" stroke-width="9" stroke-linecap="round"/>
<line x1="249.5" y1="3017" x2="730" y2="2630" stroke="#c9d6b8" stroke-width="4" stroke-linecap="round"/>
<line x1="236.4" y1="3013.5" x2="729.3" y2="2616.4" stroke="#28ac5c" stroke-width="3.5" stroke-dasharray="4,9"/>
<line x1="250.2" y1="3030.6" x2="743.1" y2="2633.5" stroke="#28ac5c" stroke-width="3.5" stroke-dasharray="4,9"/>
<line x1="931" y1="2788" x2="1055" y2="2852" stroke="#2e2e58" stroke-width="5" stroke-linecap="round"/>
<line x1="928.5" y1="2775.4" x2="1066.7" y2="2846.8" stroke="#28ac5c" stroke-width="3.5" stroke-dasharray="4,8"/>
<line x1="919.3" y1="2793.2" x2="1057.5" y2="2864.6" stroke="#28ac5c" stroke-width="3.5" stroke-dasharray="4,8"/>
</g>
<rect x="59" y="2200" width="1188" height="957" fill="none" stroke="#3a3a3a" stroke-width="4.5"/>
<text x="91" y="2291" font-size="73" text-anchor="start" font-weight="normal" fill="#111" stroke="#111" stroke-width="1.4" >After heating</text>
<text x="91" y="2378" font-size="73" text-anchor="start" font-weight="normal" fill="#111" stroke="#111" stroke-width="1.4" >at 450 °C</text>
<text x="1005" y="2289" font-size="72" text-anchor="start" font-weight="normal" fill="#111" stroke="#111" stroke-width="1.4" >10 µm</text>
<rect x="989" y="2316" width="231" height="37" fill="#050505"/>
<text x="538" y="2394" font-size="73" text-anchor="start" font-weight="normal" fill="#1a72c0" stroke="#1a72c0" stroke-width="1.4" >bBN</text>
<text x="1008" y="3012" font-size="73" text-anchor="start" font-weight="normal" fill="#ea1c24" stroke="#ea1c24" stroke-width="1.4" >tBN</text>
<text x="692" y="3119" font-size="73" text-anchor="start" font-weight="normal" fill="#111" stroke="#111" stroke-width="1.4" >ITO</text>
<text transform="translate(514,2736) scale(0.7,1)" font-size="71" text-anchor="start" font-weight="bold" fill="#10a04c" stroke="#10a04c" stroke-width="1.4">1</text>
<text transform="translate(1016,2791.5) scale(0.92,1)" font-size="71" text-anchor="start" font-weight="bold" fill="#10a04c" stroke="#10a04c" stroke-width="1.4">2</text>
<line x1="1537.1" y1="1732" x2="1537.1" y2="1925" stroke="#454545" stroke-width="2.5" stroke-dasharray="10,8"/>
<line x1="1698.5" y1="1732" x2="1698.5" y2="1905" stroke="#454545" stroke-width="2.5" stroke-dasharray="10,8"/>
<line x1="1789.3" y1="1732" x2="1789.3" y2="1775" stroke="#c4c4c4" stroke-width="2.5" stroke-dasharray="10,8"/>
<line x1="2032.3" y1="1732" x2="2032.3" y2="1945" stroke="#c4c4c4" stroke-width="2.5" stroke-dasharray="10,8"/>
<line x1="1496.4" y1="2060" x2="1496.4" y2="2327.5" stroke="#454545" stroke-width="2.5" stroke-dasharray="10,8"/>
<line x1="1821.1" y1="2290" x2="1821.1" y2="2327.5" stroke="#c4c4c4" stroke-width="2.5" stroke-dasharray="10,8"/>
<line x1="1976.2" y1="2290" x2="1976.2" y2="2327.5" stroke="#454545" stroke-width="2.5" stroke-dasharray="10,8"/>
<line x1="2130.1" y1="2275" x2="2130.1" y2="2327.5" stroke="#c4c4c4" stroke-width="2.5" stroke-dasharray="10,8"/>
<line x1="1537.1" y1="2352" x2="1537.1" y2="2946.5" stroke="#454545" stroke-width="2.5" stroke-dasharray="10,8"/>
<line x1="1698.5" y1="2352" x2="1698.5" y2="2946.5" stroke="#454545" stroke-width="2.5" stroke-dasharray="10,8"/>
<line x1="1789.3" y1="2352" x2="1789.3" y2="2946.5" stroke="#c4c4c4" stroke-width="2.5" stroke-dasharray="10,8"/>
<line x1="2032.3" y1="2352" x2="2032.3" y2="2946.5" stroke="#c4c4c4" stroke-width="2.5" stroke-dasharray="10,8"/>
<polyline points="1414.2,2014.3 1415.5,2014.8 1416.8,2013.3 1418.1,2012.7 1419.4,2013 1420.7,2013.9 1422,2014.9 1423.4,2015.3 1424.7,2013.8 1426,2012.4 1427.3,2012.9 1428.6,2014.4 1429.9,2016.5 1431.2,2016.2 1432.5,2014.9 1433.8,2014.2 1435.1,2013.6 1436.4,2014.1 1437.7,2012.6 1439,2011.9 1440.3,2011.3 1441.6,2011.7 1442.9,2011.1 1444.2,2011.3 1445.5,2009.2 1446.8,2008.1 1448.1,2005.9 1449.4,2004.3 1450.7,2002.2 1452,2002 1453.3,2003.3 1454.6,2005.1 1456,2006.2 1457.3,2007 1458.6,2008.6 1459.9,2009 1461.2,2010.4 1462.5,2011.5 1463.8,2012.2 1465.1,2013 1466.4,2012.2 1467.7,2012.5 1469,2011.4 1470.3,2012.1 1471.6,2012.5 1472.9,2013.3 1474.2,2013.3 1475.5,2014.1 1476.8,2015.2 1478.1,2014.7 1479.4,2014.6 1480.7,2012.8 1482,2013.1 1483.3,2012.4 1484.6,2013.5 1485.9,2013.3 1487.2,2013 1488.6,2013 1489.9,2013.2 1491.2,2013.3 1492.5,2013.6 1493.8,2014.6 1495.1,2014.9 1496.4,2014.5 1497.7,2013.9 1499,2013.7 1500.3,2013.4 1501.6,2012.7 1502.9,2013.4 1504.2,2013.6 1505.5,2014.1 1506.8,2013.8 1508.1,2014.1 1509.4,2015 1510.7,2014.6 1512,2014 1513.3,2013.2 1514.6,2012.7 1515.9,2013.6 1517.2,2013.9 1518.5,2014.6 1519.8,2013.6 1521.2,2013.2 1522.5,2013.1 1523.8,2013 1525.1,2011.9 1526.4,2009.5 1527.7,2008.6 1529,2006.5 1530.3,2003.2 1531.6,1995.5 1532.9,1982.3 1534.2,1961.3 1535.5,1936.9 1536.8,1921.7 1538.1,1930 1539.4,1951.1 1540.7,1973.7 1542,1989.6 1543.3,2001.3 1544.6,2006 1545.9,2006.9 1547.2,2006.6 1548.5,2008.3 1549.8,2011.1 1551.1,2013.4 1552.4,2013.8 1553.8,2013.2 1555.1,2012.9 1556.4,2012.8 1557.7,2013.3 1559,2012.9 1560.3,2013.7 1561.6,2013.4 1562.9,2012.8 1564.2,2012.1 1565.5,2012.6 1566.8,2012.8 1568.1,2012.3 1569.4,2012.6 1570.7,2013.9 1572,2014.9 1573.3,2015 1574.6,2015 1575.9,2013.4 1577.2,2012.1 1578.5,2010.9 1579.8,2011.4 1581.1,2011.7 1582.4,2012.1 1583.7,2012.1 1585,2012.4 1586.4,2011.1 1587.7,2011.3 1589,2012.3 1590.3,2013.1 1591.6,2013.9 1592.9,2013.5 1594.2,2013.5 1595.5,2013.6 1596.8,2013.3 1598.1,2013.9 1599.4,2013.2 1600.7,2012.2 1602,2011.1 1603.3,2011.1 1604.6,2012.2 1605.9,2012.6 1607.2,2012.7 1608.5,2012.2 1609.8,2012.9 1611.1,2012.7 1612.4,2013.7 1613.7,2012.2 1615,2012.1 1616.3,2011.7 1617.6,2012.6 1619,2012.4 1620.3,2011.7 1621.6,2010.9 1622.9,2011.8 1624.2,2012.1 1625.5,2012 1626.8,2011.6 1628.1,2011 1629.4,2011.2 1630.7,2010.9 1632,2010.6 1633.3,2010.8 1634.6,2010.8 1635.9,2011.2 1637.2,2011.5 1638.5,2010.8 1639.8,2009.5 1641.1,2008.4 1642.4,2008.4 1643.7,2009.1 1645,2009.4 1646.3,2009.5 1647.6,2009.2 1648.9,2008.4 1650.2,2007.1 1651.6,2007.4 1652.9,2006.9 1654.2,2006.5 1655.5,2004.8 1656.8,2004.2 1658.1,2005.3 1659.4,2005.9 1660.7,2004.6 1662,2003.1 1663.3,2002.2 1664.6,2002.9 1665.9,2002.5 1667.2,2001.3 1668.5,2000.4 1669.8,1999 1671.1,1997.3 1672.4,1995.7 1673.7,1994.7 1675,1995.6 1676.3,1995.6 1677.6,1994.2 1678.9,1992.5 1680.2,1990.6 1681.5,1988.9 1682.8,1985.8 1684.2,1983.6 1685.5,1982.1 1686.8,1979.8 1688.1,1974.4 1689.4,1969.3 1690.7,1962.8 1692,1955.5 1693.3,1944.5 1694.6,1931.2 1695.9,1918.2 1697.2,1907 1698.5,1903 1699.8,1908 1701.1,1920.2 1702.4,1934.3 1703.7,1947.8 1705,1959.1 1706.3,1968 1707.6,1974.8 1708.9,1980.9 1710.2,1985.9 1711.5,1990.6 1712.8,1994.1 1714.1,1996.5 1715.4,1997.9 1716.8,1999.6 1718.1,2000.9 1719.4,2001.1 1720.7,2000.6 1722,2000.8 1723.3,2001.2 1724.6,2002.2 1725.9,2003.2 1727.2,2004.6 1728.5,2005.1 1729.8,2005.2 1731.1,2005.2 1732.4,2005 1733.7,2005.2 1735,2004.9 1736.3,2005.3 1737.6,2005.7 1738.9,2006.3 1740.2,2006.6 1741.5,2007.1 1742.8,2006.1 1744.1,2004.6 1745.4,2003.5 1746.7,2003.7 1748,2004 1749.4,2002.7 1750.7,2001.3 1752,1999.7 1753.3,1999.7 1754.6,1999.7 1755.9,1998.2 1757.2,1997.3 1758.5,1996.3 1759.8,1997.8 1761.1,1998.5 1762.4,1998.9 1763.7,1997.9 1765,1997.3 1766.3,1997.4 1767.6,1996.2 1768.9,1994.4 1770.2,1992.1 1771.5,1990.3 1772.8,1987.9 1774.1,1983.7 1775.4,1978.9 1776.7,1971.8 1778,1965.1 1779.3,1956.5 1780.6,1943.9 1782,1926.7 1783.3,1904 1784.6,1875.6 1785.9,1838.3 1787.2,1799.9 1788.5,1770.9 1789.8,1769.6 1791.1,1792.2 1792.4,1829.8 1793.7,1866 1795,1897 1796.3,1921.2 1797.6,1939 1798.9,1952 1800.2,1962.3 1801.5,1970 1802.8,1976.2 1804.1,1980.3 1805.4,1983.7 1806.7,1986.7 1808,1989.8 1809.3,1992.5 1810.6,1994.6 1811.9,1996.6 1813.2,1997.7 1814.6,1999.4 1815.9,2000.6 1817.2,2001.2 1818.5,2001.8 1819.8,2003.2 1821.1,2004.1 1822.4,2005.7 1823.7,2004.8 1825,2006.2 1826.3,2005.4 1827.6,2006.2 1828.9,2006.2 1830.2,2007 1831.5,2008.3 1832.8,2009.4 1834.1,2010.6 1835.4,2010.4 1836.7,2011.1 1838,2011.5 1839.3,2011.8 1840.6,2010.5 1841.9,2010.5 1843.2,2010.9 1844.5,2011.7 1845.8,2011.9 1847.2,2012.1 1848.5,2012.1 1849.8,2012.1 1851.1,2012 1852.4,2012.5 1853.7,2012.1 1855,2011.7 1856.3,2011.7 1857.6,2012.8 1858.9,2014.6 1860.2,2014.4 1861.5,2013 1862.8,2011.5 1864.1,2011.3 1865.4,2011.7 1866.7,2012.2 1868,2012.3 1869.3,2012.9 1870.6,2013.2 1871.9,2014.7 1873.2,2015.5 1874.5,2015.6 1875.8,2016.1 1877.1,2014.8 1878.4,2014.4 1879.8,2013.2 1881.1,2013.8 1882.4,2014.3 1883.7,2014.1 1885,2014.8 1886.3,2015 1887.6,2015.5 1888.9,2014.8 1890.2,2013.5 1891.5,2011.8 1892.8,2011.5 1894.1,2012.3 1895.4,2013.9 1896.7,2013.4 1898,2012.9 1899.3,2013.9 1900.6,2015 1901.9,2015.6 1903.2,2014.4 1904.5,2014.4 1905.8,2014.9 1907.1,2015.5 1908.4,2014.8 1909.7,2014.3 1911,2013.3 1912.4,2013.4 1913.7,2013.6 1915,2013.8 1916.3,2013.9 1917.6,2014.4 1918.9,2014.6 1920.2,2015.2 1921.5,2014.2 1922.8,2013.6 1924.1,2013.2 1925.4,2013.2 1926.7,2012.7 1928,2012 1929.3,2012 1930.6,2014 1931.9,2014.4 1933.2,2014.6 1934.5,2014.1 1935.8,2014.6 1937.1,2014.5 1938.4,2015.1 1939.7,2015.7 1941,2014.5 1942.3,2014.1 1943.6,2013.6 1945,2015.6 1946.3,2015.1 1947.6,2015.3 1948.9,2015.8 1950.2,2016.8 1951.5,2017.3 1952.8,2016.8 1954.1,2016.3 1955.4,2015.8 1956.7,2014.6 1958,2015.4 1959.3,2014.9 1960.6,2015.8 1961.9,2014.5 1963.2,2014.6 1964.5,2013.2 1965.8,2013.3 1967.1,2012.2 1968.4,2012.9 1969.7,2011.6 1971,2011.4 1972.3,2012.3 1973.6,2013 1974.9,2014 1976.2,2013.5 1977.6,2013.1 1978.9,2012.7 1980.2,2012 1981.5,2012.5 1982.8,2011.6 1984.1,2012 1985.4,2012.7 1986.7,2014.7 1988,2015.5 1989.3,2015.2 1990.6,2013.9 1991.9,2013.7 1993.2,2013.6 1994.5,2014.3 1995.8,2012.9 1997.1,2012.8 1998.4,2013.3 1999.7,2014.3 2001,2013.8 2002.3,2013.1 2003.6,2012.5 2004.9,2012.6 2006.2,2012.5 2007.5,2012.4 2008.8,2012 2010.2,2011.4 2011.5,2010.2 2012.8,2009 2014.1,2008.5 2015.4,2007.8 2016.7,2007.7 2018,2005.2 2019.3,2004.7 2020.6,2002.4 2021.9,2001.9 2023.2,1996.4 2024.5,1991.1 2025.8,1985 2027.1,1978.6 2028.4,1969.7 2029.7,1957.4 2031,1947.3 2032.3,1943.2 2033.6,1946.8 2034.9,1956.7 2036.2,1968.7 2037.5,1979.5 2038.8,1987.1 2040.1,1992.4 2041.4,1997.3 2042.8,2000.9 2044.1,2003.3 2045.4,2004.9 2046.7,2007 2048,2009.2 2049.3,2009.8 2050.6,2010.3 2051.9,2010.7 2053.2,2010.2 2054.5,2010.6 2055.8,2010.6 2057.1,2012 2058.4,2011.7 2059.7,2012 2061,2013 2062.3,2013.7 2063.6,2013.2 2064.9,2012.5 2066.2,2013.6 2067.5,2014.8 2068.8,2015 2070.1,2013.6 2071.4,2012.2 2072.7,2012 2074,2012.6 2075.4,2013.5 2076.7,2013.1 2078,2013.3 2079.3,2013.5 2080.6,2013.2 2081.9,2014.7 2083.2,2014.8 2084.5,2016.1 2085.8,2014 2087.1,2013.1 2088.4,2013.4 2089.7,2014.8 2091,2014 2092.3,2014.1 2093.6,2014 2094.9,2015.8 2096.2,2014.5 2097.5,2014.3 2098.8,2013.5 2100.1,2014.6 2101.4,2015.5 2102.7,2016.3 2104,2016.5 2105.3,2015.3 2106.6,2014.3 2108,2013.7 2109.3,2014.6 2110.6,2016 2111.9,2016 2113.2,2015.6 2114.5,2014.5 2115.8,2013.5 2117.1,2013.4 2118.4,2013.9 2119.7,2014.6 2121,2014.5 2122.3,2013.2 2123.6,2013.5 2124.9,2014.4 2126.2,2015.5 2127.5,2015.8 2128.8,2015.3 2130.1,2014.8 2131.4,2014.6 2132.7,2013.9 2134,2016 2135.3,2016 2136.6,2015.9 2137.9,2013.3 2139.2,2014 2140.6,2015 2141.9,2016.2 2143.2,2014.5 2144.5,2013.8 2145.8,2012.9 2147.1,2014.3 2148.4,2014.3 2149.7,2016.2 2151,2015.8 2152.3,2016 2153.6,2015.6 2154.9,2014.1 2156.2,2013.8 2157.5,2012.7 2158.8,2014.6 2160.1,2015.7 2161.4,2016.2 2162.7,2014.5 2164,2013.5 2165.3,2012.7 2166.6,2014.4 2167.9,2014.5 2169.2,2015.5 2170.5,2015.8 2171.8,2016 2173.2,2016.1 2174.5,2014.7 2175.8,2014.8 2177.1,2014.4 2178.4,2014.6 2179.7,2014.6 2181,2014.3 2182.3,2015.4 2183.6,2014.9 2184.9,2015.2 2186.2,2013.9 2187.5,2012.9 2188.8,2013.3 2190.1,2013.5 2191.4,2014 2192.7,2012.9 2194,2011.7 2195.3,2012.5 2196.6,2013.7 2197.9,2015.2 2199.2,2014.1 2200.5,2011.9 2201.8,2011.3 2203.1,2012.8 2204.4,2013.6 2205.8,2013.7 2207.1,2011.8 2208.4,2011.6 2209.7,2011.3 2211,2012 2212.3,2012.1 2213.6,2012.5 2214.9,2012.6 2216.2,2012.4 2217.5,2012.7 2218.8,2013.4 2220.1,2013.6 2221.4,2013.5 2222.7,2013.2 2224,2014.3 2225.3,2014.1 2226.6,2014.4 2227.9,2013.6 2229.2,2013.8 2230.5,2014 2231.8,2015.6 2233.1,2015.5 2234.4,2014.8 2235.7,2014.9 2237,2013.8 2238.4,2015.6 2239.7,2013.9 2241,2015.9 2242.3,2014.8 2243.6,2015.7 2244.9,2014.9 2246.2,2015 2247.5,2015 2248.8,2014.6 2250.1,2014.9 2251.4,2014 2252.7,2014 2254,2013.4 2255.3,2014 2256.6,2015.1 2257.9,2014.9 2259.2,2014.5 2260.5,2013.1 2261.8,2013.4 2263.1,2014.2 2264.4,2014.4 2265.7,2014.5 2267,2013.8 2268.3,2014.3 2269.6,2013.3 2271,2014 2272.3,2014.5 2273.6,2015.2 2274.9,2014.8 2276.2,2013.8 2277.5,2014.8 2278.8,2015.3 2280.1,2017.5 2281.4,2016.8 2282.7,2015.9 2284,2013.9 2285.3,2013.3 2286.6,2014 2287.9,2014.4 2289.2,2015.7 2290.5,2015.8 2291.8,2015.4 2293.1,2015.6 2294.4,2015.7 2295.7,2016.5 2297,2015 2298.3,2014.2 2299.6,2013.3 2300.9,2013.8 2302.2,2013 2303.6,2014.1 2304.9,2014.2 2306.2,2016 2307.5,2015.7 2308.8,2016.8 2310.1,2016.6 2311.4,2016.4 2312.7,2015.1 2314,2014.8 2315.3,2015.6 2316.6,2015 2317.9,2014.5 2319.2,2013.7 2320.5,2015.7 2321.8,2015.4 2323.1,2015 2324.4,2014.2 2325.7,2016.6 2327,2016.4 2328.3,2016.2 2329.6,2014.8 2330.9,2014.9 2332.2,2015.3 2333.5,2015.1 2334.8,2015.3 2336.2,2015.3 2337.5,2016 2338.8,2016.3 2340.1,2015.9 2341.4,2014.4 2342.7,2014.5 2344,2015.4" fill="none" stroke="#e8202a" stroke-width="6.5" stroke-linejoin="round" stroke-linecap="round" />
<polyline points="1414.2,2294.8 1415.5,2294.5 1416.8,2295.4 1418.1,2295.1 1419.4,2295.8 1420.7,2294.6 1422,2293.9 1423.4,2294.8 1424.7,2296.5 1426,2296.6 1427.3,2296.7 1428.6,2294.8 1429.9,2293.4 1431.2,2291 1432.5,2290.3 1433.8,2290.4 1435.1,2291.4 1436.4,2291.1 1437.7,2291.6 1439,2291.1 1440.3,2291.2 1441.6,2289.8 1442.9,2290.9 1444.2,2291 1445.5,2290.5 1446.8,2288.1 1448.1,2288.7 1449.4,2288.4 1450.7,2289.3 1452,2288.4 1453.3,2286.6 1454.6,2286 1456,2284.2 1457.3,2284.2 1458.6,2282 1459.9,2281.5 1461.2,2281.4 1462.5,2280.9 1463.8,2278.7 1465.1,2277.8 1466.4,2276.9 1467.7,2276.8 1469,2274.5 1470.3,2272.5 1471.6,2270 1472.9,2266.8 1474.2,2262.8 1475.5,2257.8 1476.8,2253.2 1478.1,2248 1479.4,2240.3 1480.7,2232.6 1482,2223.9 1483.3,2213.7 1484.6,2201.2 1485.9,2188.1 1487.2,2172.7 1488.6,2154.8 1489.9,2133.1 1491.2,2111.3 1492.5,2088.9 1493.8,2069 1495.1,2055.4 1496.4,2050.6 1497.7,2055.6 1499,2070 1500.3,2089.5 1501.6,2112 1502.9,2133.2 1504.2,2153.8 1505.5,2171.2 1506.8,2186.2 1508.1,2199.4 1509.4,2210.5 1510.7,2219.6 1512,2227.9 1513.3,2234.9 1514.6,2241.8 1515.9,2246 1517.2,2248.2 1518.5,2252.7 1519.8,2256.3 1521.2,2259.5 1522.5,2261.6 1523.8,2263.5 1525.1,2267.5 1526.4,2268.9 1527.7,2271.8 1529,2273.1 1530.3,2274.8 1531.6,2275.5 1532.9,2277.4 1534.2,2277.5 1535.5,2279.3 1536.8,2279.9 1538.1,2281.3 1539.4,2281.4 1540.7,2281.5 1542,2282.7 1543.3,2284 1544.6,2284.6 1545.9,2285.6 1547.2,2286.2 1548.5,2287.7 1549.8,2288.8 1551.1,2288.6 1552.4,2289.1 1553.8,2290.2 1555.1,2290.7 1556.4,2290.5 1557.7,2289.2 1559,2290 1560.3,2290 1561.6,2290.1 1562.9,2288.9 1564.2,2288.9 1565.5,2288.6 1566.8,2289.3 1568.1,2289.9 1569.4,2291.3 1570.7,2292 1572,2291.7 1573.3,2291.6 1574.6,2292.1 1575.9,2292.2 1577.2,2292.4 1578.5,2291.7 1579.8,2292.4 1581.1,2291.9 1582.4,2293.3 1583.7,2293.3 1585,2293.7 1586.4,2293.4 1587.7,2294.8 1589,2295.9 1590.3,2295.2 1591.6,2295.4 1592.9,2294.9 1594.2,2296.5 1595.5,2296.5 1596.8,2296 1598.1,2295.3 1599.4,2294.5 1600.7,2295.2 1602,2296.4 1603.3,2296.7 1604.6,2296 1605.9,2296.7 1607.2,2296.1 1608.5,2296.6 1609.8,2294.9 1611.1,2294.8 1612.4,2295.4 1613.7,2296.1 1615,2297 1616.3,2296.5 1617.6,2295.8 1619,2294.7 1620.3,2294.9 1621.6,2294.2 1622.9,2294.8 1624.2,2294.9 1625.5,2296.4 1626.8,2296.5 1628.1,2297 1629.4,2297.6 1630.7,2298.3 1632,2297.6 1633.3,2296.5 1634.6,2296.2 1635.9,2295.7 1637.2,2296 1638.5,2296.8 1639.8,2297.1 1641.1,2296.4 1642.4,2295.5 1643.7,2295.4 1645,2295.1 1646.3,2294.5 1647.6,2295.6 1648.9,2296 1650.2,2297.1 1651.6,2297.7 1652.9,2297.6 1654.2,2298 1655.5,2295.9 1656.8,2295.8 1658.1,2295.9 1659.4,2296.6 1660.7,2296.1 1662,2294.7 1663.3,2295.1 1664.6,2295.4 1665.9,2296.9 1667.2,2296.8 1668.5,2297.3 1669.8,2296.8 1671.1,2297.1 1672.4,2297.3 1673.7,2296.8 1675,2296.5 1676.3,2296.2 1677.6,2296.7 1678.9,2296.9 1680.2,2297.3 1681.5,2298.2 1682.8,2297.7 1684.2,2297.2 1685.5,2296.3 1686.8,2296.7 1688.1,2296.4 1689.4,2296.4 1690.7,2295.6 1692,2295.7 1693.3,2295.8 1694.6,2297.9 1695.9,2298.2 1697.2,2298.5 1698.5,2296.9 1699.8,2297.1 1701.1,2296.9 1702.4,2298.2 1703.7,2298.1 1705,2299.1 1706.3,2298.3 1707.6,2297.9 1708.9,2296.4 1710.2,2295.7 1711.5,2295.5 1712.8,2296.7 1714.1,2297.3 1715.4,2298.3 1716.8,2296.9 1718.1,2296.9 1719.4,2296.2 1720.7,2298.5 1722,2298.1 1723.3,2298.6 1724.6,2297.3 1725.9,2297.1 1727.2,2296.6 1728.5,2296.1 1729.8,2296.9 1731.1,2296.7 1732.4,2296.8 1733.7,2296.5 1735,2296.7 1736.3,2295.9 1737.6,2294.9 1738.9,2294.9 1740.2,2295.1 1741.5,2296.5 1742.8,2296.8 1744.1,2297.3 1745.4,2296.1 1746.7,2296.4 1748,2296.1 1749.4,2296.1 1750.7,2295.4 1752,2297.1 1753.3,2297.3 1754.6,2297.1 1755.9,2296.3 1757.2,2297.1 1758.5,2297.5 1759.8,2297.6 1761.1,2296.1 1762.4,2296 1763.7,2294 1765,2295.8 1766.3,2296.1 1767.6,2298.7 1768.9,2298.1 1770.2,2298.3 1771.5,2295.9 1772.8,2294.7 1774.1,2294 1775.4,2295.3 1776.7,2295.3 1778,2293.9 1779.3,2293.8 1780.6,2295 1782,2295.8 1783.3,2295.4 1784.6,2295.4 1785.9,2296.6 1787.2,2295.1 1788.5,2294.3 1789.8,2292.8 1791.1,2294.3 1792.4,2294.1 1793.7,2293.5 1795,2292.7 1796.3,2292.7 1797.6,2292.2 1798.9,2290.9 1800.2,2289.7 1801.5,2290 1802.8,2290.1 1804.1,2288.8 1805.4,2287.4 1806.7,2287.1 1808,2287.9 1809.3,2287.7 1810.6,2287.1 1811.9,2287.3 1813.2,2286.9 1814.6,2285.8 1815.9,2283.5 1817.2,2283.3 1818.5,2283.3 1819.8,2283.7 1821.1,2283 1822.4,2283.3 1823.7,2283.6 1825,2284.2 1826.3,2285.3 1827.6,2284.7 1828.9,2286 1830.2,2285.9 1831.5,2288.2 1832.8,2289.7 1834.1,2290.5 1835.4,2290.5 1836.7,2289.9 1838,2291.3 1839.3,2292.9 1840.6,2293.5 1841.9,2293.5 1843.2,2294 1844.5,2294.6 1845.8,2293.5 1847.2,2292.1 1848.5,2291.7 1849.8,2293.2 1851.1,2293.5 1852.4,2295 1853.7,2294.6 1855,2296.1 1856.3,2294.9 1857.6,2296.2 1858.9,2295.5 1860.2,2296.9 1861.5,2297.4 1862.8,2298.6 1864.1,2298.4 1865.4,2296.7 1866.7,2295.1 1868,2292.4 1869.3,2293.9 1870.6,2295.3 1871.9,2298.1 1873.2,2296.5 1874.5,2297.5 1875.8,2296.4 1877.1,2297.8 1878.4,2294.9 1879.8,2295 1881.1,2295.3 1882.4,2297 1883.7,2296.7 1885,2295.9 1886.3,2296 1887.6,2295.5 1888.9,2296 1890.2,2294.3 1891.5,2295.9 1892.8,2295.2 1894.1,2296.9 1895.4,2296.1 1896.7,2296.1 1898,2295.2 1899.3,2294.8 1900.6,2294.9 1901.9,2294.4 1903.2,2294.6 1904.5,2295.2 1905.8,2295.7 1907.1,2296.7 1908.4,2296.7 1909.7,2297.4 1911,2296 1912.4,2295.7 1913.7,2296.1 1915,2297.4 1916.3,2297.9 1917.6,2297.9 1918.9,2296.3 1920.2,2295.8 1921.5,2295.1 1922.8,2295.9 1924.1,2294.6 1925.4,2294.3 1926.7,2294.2 1928,2296.3 1929.3,2297 1930.6,2296.7 1931.9,2294.6 1933.2,2293.1 1934.5,2293.2 1935.8,2293.3 1937.1,2295.1 1938.4,2294.2 1939.7,2294.4 1941,2293.1 1942.3,2294 1943.6,2293.2 1945,2292.7 1946.3,2292.4 1947.6,2292.9 1948.9,2292.4 1950.2,2291.8 1951.5,2291.4 1952.8,2292.7 1954.1,2291.8 1955.4,2291.7 1956.7,2291 1958,2290.4 1959.3,2290.4 1960.6,2289.7 1961.9,2290.1 1963.2,2289.2 1964.5,2288.6 1965.8,2287.8 1967.1,2286.7 1968.4,2284.4 1969.7,2283.4 1971,2282.8 1972.3,2283 1973.6,2284.2 1974.9,2283.8 1976.2,2283 1977.6,2282.6 1978.9,2283.5 1980.2,2284.9 1981.5,2284.7 1982.8,2284.1 1984.1,2284 1985.4,2285.7 1986.7,2287.4 1988,2288.5 1989.3,2288.4 1990.6,2288.3 1991.9,2288.2 1993.2,2288.1 1994.5,2288.8 1995.8,2288.8 1997.1,2288.6 1998.4,2287.9 1999.7,2289.1 2001,2290.7 2002.3,2291.3 2003.6,2291.1 2004.9,2289.9 2006.2,2290.7 2007.5,2290.9 2008.8,2291.5 2010.2,2291.2 2011.5,2293.7 2012.8,2294.4 2014.1,2294.8 2015.4,2293.2 2016.7,2293.9 2018,2295.1 2019.3,2295.7 2020.6,2293.9 2021.9,2294 2023.2,2294.6 2024.5,2296.5 2025.8,2296.2 2027.1,2295.6 2028.4,2296 2029.7,2295.5 2031,2296.2 2032.3,2295.1 2033.6,2295.1 2034.9,2294.2 2036.2,2294.1 2037.5,2294.1 2038.8,2294.9 2040.1,2296.3 2041.4,2296.2 2042.8,2295 2044.1,2294.8 2045.4,2295.1 2046.7,2296 2048,2295.2 2049.3,2296.1 2050.6,2295.3 2051.9,2295.9 2053.2,2295.9 2054.5,2295 2055.8,2294.1 2057.1,2293.3 2058.4,2295 2059.7,2295 2061,2294.8 2062.3,2294.3 2063.6,2294.5 2064.9,2295 2066.2,2295.1 2067.5,2296.3 2068.8,2296.6 2070.1,2295.9 2071.4,2294.4 2072.7,2294.2 2074,2294.3 2075.4,2294.2 2076.7,2293.4 2078,2292.5 2079.3,2292.5 2080.6,2293.4 2081.9,2295.2 2083.2,2294.8 2084.5,2293.8 2085.8,2293.5 2087.1,2293.7 2088.4,2294.5 2089.7,2295.1 2091,2295.2 2092.3,2294 2093.6,2292.9 2094.9,2291.2 2096.2,2291.8 2097.5,2291.9 2098.8,2293.3 2100.1,2292.8 2101.4,2293.1 2102.7,2291.4 2104,2290.8 2105.3,2289.1 2106.6,2288.8 2108,2286.7 2109.3,2285.6 2110.6,2283.6 2111.9,2283.6 2113.2,2282.5 2114.5,2282.7 2115.8,2280.3 2117.1,2278.9 2118.4,2277 2119.7,2274.8 2121,2274.3 2122.3,2272.7 2123.6,2271.6 2124.9,2269.8 2126.2,2268.6 2127.5,2266.1 2128.8,2263.7 2130.1,2262.1 2131.4,2264.1 2132.7,2264.5 2134,2266.2 2135.3,2268 2136.6,2269 2137.9,2271.3 2139.2,2274.2 2140.6,2277.9 2141.9,2280.4 2143.2,2282.2 2144.5,2283.8 2145.8,2284.7 2147.1,2285.2 2148.4,2285.8 2149.7,2288 2151,2288.9 2152.3,2290.3 2153.6,2290.1 2154.9,2291.4 2156.2,2290.7 2157.5,2289.9 2158.8,2289.4 2160.1,2291 2161.4,2291.3 2162.7,2290.6 2164,2291 2165.3,2292.6 2166.6,2293.5 2167.9,2293 2169.2,2292.3 2170.5,2291.9 2171.8,2291.7 2173.2,2292.4 2174.5,2293.2 2175.8,2294.5 2177.1,2293.6 2178.4,2292.7 2179.7,2292.6 2181,2292.9 2182.3,2293.9 2183.6,2293.6 2184.9,2293.5 2186.2,2292.7 2187.5,2293 2188.8,2292 2190.1,2293.5 2191.4,2292.2 2192.7,2294.6 2194,2294.4 2195.3,2295.8 2196.6,2295.6 2197.9,2295.6 2199.2,2294.5 2200.5,2294.8 2201.8,2294.8 2203.1,2296.1 2204.4,2295.5 2205.8,2295.3 2207.1,2295.6 2208.4,2296.3 2209.7,2296.7 2211,2295.3 2212.3,2294.1 2213.6,2293.3 2214.9,2294.8 2216.2,2295.8 2217.5,2296.6 2218.8,2295.8 2220.1,2295 2221.4,2295.5 2222.7,2294.9 2224,2294.9 2225.3,2294.9 2226.6,2296 2227.9,2296.6 2229.2,2295.2 2230.5,2294 2231.8,2294.6 2233.1,2295.7 2234.4,2297.5 2235.7,2296.7 2237,2296.4 2238.4,2294.8 2239.7,2296.2 2241,2295.2 2242.3,2296.2 2243.6,2296.2 2244.9,2296.7 2246.2,2295.3 2247.5,2293.6 2248.8,2293.3 2250.1,2294.5 2251.4,2295.1 2252.7,2295.4 2254,2295 2255.3,2296.1 2256.6,2296.5 2257.9,2296.4 2259.2,2296.7 2260.5,2296.3 2261.8,2296.3 2263.1,2296 2264.4,2296.6 2265.7,2295.6 2267,2294.1 2268.3,2292.5 2269.6,2293.4 2271,2294.1 2272.3,2294.5 2273.6,2296 2274.9,2296.6 2276.2,2298.2 2277.5,2296.7 2278.8,2295.9 2280.1,2295.7 2281.4,2296.9 2282.7,2297.7 2284,2295.9 2285.3,2294.8 2286.6,2293.2 2287.9,2294.4 2289.2,2295 2290.5,2297.3 2291.8,2297.4 2293.1,2297.9 2294.4,2296.4 2295.7,2296.5 2297,2297 2298.3,2296.2 2299.6,2296.7 2300.9,2296.9 2302.2,2299.9 2303.6,2299.1 2304.9,2297.1 2306.2,2294 2307.5,2294.1 2308.8,2294.7 2310.1,2295.6 2311.4,2296.6 2312.7,2296.4 2314,2296.6 2315.3,2294.7 2316.6,2294.5 2317.9,2294.2 2319.2,2293.7 2320.5,2294.2 2321.8,2294.9 2323.1,2296.5 2324.4,2296.6 2325.7,2296 2327,2295.1 2328.3,2295 2329.6,2294.6 2330.9,2295.5 2332.2,2295.5 2333.5,2296 2334.8,2295 2336.2,2294.9 2337.5,2296 2338.8,2297.5 2340.1,2297.4 2341.4,2295.7 2342.7,2295.8 2344,2295.9" fill="none" stroke="#0b6fbf" stroke-width="6.5" stroke-linejoin="round" stroke-linecap="round" />
<polyline points="1414.2,2618.6 1415.5,2616.6 1416.8,2619.2 1418.1,2619.1 1419.4,2621.5 1420.7,2621.1 1422,2620.6 1423.4,2619.1 1424.7,2617.8 1426,2618.5 1427.3,2618.1 1428.6,2617.7 1429.9,2615.2 1431.2,2614.7 1432.5,2613.9 1433.8,2614 1435.1,2613.4 1436.4,2612.7 1437.7,2611.3 1439,2611.4 1440.3,2610.5 1441.6,2611.4 1442.9,2612.9 1444.2,2613.9 1445.5,2614.3 1446.8,2616 1448.1,2616.1 1449.4,2615 1450.7,2612.3 1452,2614.9 1453.3,2618.2 1454.6,2617.5 1456,2616.4 1457.3,2614.6 1458.6,2615.1 1459.9,2612.9 1461.2,2613.7 1462.5,2613.4 1463.8,2615.3 1465.1,2614.4 1466.4,2616.6 1467.7,2617.3 1469,2616.1 1470.3,2614.1 1471.6,2613.9 1472.9,2613.6 1474.2,2613.4 1475.5,2612.6 1476.8,2612.2 1478.1,2611.3 1479.4,2609.5 1480.7,2611 1482,2611.5 1483.3,2613.6 1484.6,2613.3 1485.9,2614.2 1487.2,2613.2 1488.6,2613.6 1489.9,2612.9 1491.2,2611.9 1492.5,2612.2 1493.8,2613 1495.1,2615.6 1496.4,2614.3 1497.7,2612.8 1499,2609.5 1500.3,2606.1 1501.6,2605.3 1502.9,2606.8 1504.2,2609.2 1505.5,2608 1506.8,2607.9 1508.1,2608 1509.4,2609.8 1510.7,2608.7 1512,2608.9 1513.3,2609.4 1514.6,2608.1 1515.9,2607.8 1517.2,2606.7 1518.5,2609 1519.8,2608 1521.2,2609.6 1522.5,2608.8 1523.8,2610.7 1525.1,2608.2 1526.4,2607.8 1527.7,2605.7 1529,2603.5 1530.3,2599.9 1531.6,2594.8 1532.9,2588.9 1534.2,2580.4 1535.5,2571.5 1536.8,2567.3 1538.1,2570.1 1539.4,2577.6 1540.7,2584.8 1542,2592.2 1543.3,2597.4 1544.6,2601.8 1545.9,2602.3 1547.2,2603.1 1548.5,2604 1549.8,2604 1551.1,2604.6 1552.4,2602.9 1553.8,2602 1555.1,2601.6 1556.4,2604.5 1557.7,2606 1559,2607.9 1560.3,2606.6 1561.6,2606.7 1562.9,2604.5 1564.2,2603.9 1565.5,2605 1566.8,2606.4 1568.1,2605.8 1569.4,2603.7 1570.7,2603.7 1572,2603.6 1573.3,2604.7 1574.6,2602.6 1575.9,2603.5 1577.2,2603.9 1578.5,2605.3 1579.8,2604.8 1581.1,2603.4 1582.4,2602.5 1583.7,2602.1 1585,2602.9 1586.4,2603.8 1587.7,2604 1589,2601.8 1590.3,2600.1 1591.6,2599.9 1592.9,2600.9 1594.2,2600 1595.5,2600.2 1596.8,2602.2 1598.1,2602.2 1599.4,2601.5 1600.7,2600.5 1602,2601 1603.3,2600.5 1604.6,2599 1605.9,2599.7 1607.2,2599.6 1608.5,2600.1 1609.8,2597.8 1611.1,2598.5 1612.4,2597.8 1613.7,2599.2 1615,2598.8 1616.3,2598.3 1617.6,2599.4 1619,2598.5 1620.3,2598.3 1621.6,2595.7 1622.9,2594.9 1624.2,2594.6 1625.5,2594.2 1626.8,2594.3 1628.1,2593.1 1629.4,2593.8 1630.7,2594.5 1632,2596.2 1633.3,2594.7 1634.6,2594.2 1635.9,2593.9 1637.2,2596.6 1638.5,2597.7 1639.8,2595.5 1641.1,2593.6 1642.4,2592.6 1643.7,2594.4 1645,2594.8 1646.3,2594.2 1647.6,2593.3 1648.9,2592.1 1650.2,2591.7 1651.6,2591.9 1652.9,2591.9 1654.2,2592.4 1655.5,2588.8 1656.8,2588.4 1658.1,2588.5 1659.4,2591.3 1660.7,2592.4 1662,2590.6 1663.3,2588.3 1664.6,2586.1 1665.9,2586.7 1667.2,2585.6 1668.5,2584.6 1669.8,2581.2 1671.1,2581.7 1672.4,2581.5 1673.7,2582.8 1675,2581.8 1676.3,2582.9 1677.6,2582.2 1678.9,2581.6 1680.2,2578.3 1681.5,2575.4 1682.8,2574.7 1684.2,2575.9 1685.5,2575.4 1686.8,2572.5 1688.1,2568.3 1689.4,2565 1690.7,2561.4 1692,2555.2 1693.3,2549.9 1694.6,2545.6 1695.9,2541.8 1697.2,2537.6 1698.5,2534.6 1699.8,2536.1 1701.1,2541.4 1702.4,2547.8 1703.7,2554.3 1705,2558.8 1706.3,2564.6 1707.6,2567.4 1708.9,2571.4 1710.2,2573.5 1711.5,2576.9 1712.8,2578.5 1714.1,2578.5 1715.4,2578.3 1716.8,2578.1 1718.1,2578.8 1719.4,2578.9 1720.7,2579.3 1722,2579.4 1723.3,2579.8 1724.6,2580.8 1725.9,2580.8 1727.2,2582 1728.5,2583.1 1729.8,2585.3 1731.1,2585.1 1732.4,2584.7 1733.7,2583.4 1735,2585.4 1736.3,2585.9 1737.6,2586.5 1738.9,2584.2 1740.2,2582.4 1741.5,2581.7 1742.8,2581.7 1744.1,2581.4 1745.4,2581.3 1746.7,2580 1748,2578.2 1749.4,2576.4 1750.7,2576.1 1752,2577.4 1753.3,2577.1 1754.6,2577.4 1755.9,2575.2 1757.2,2576.7 1758.5,2576.6 1759.8,2576.9 1761.1,2575 1762.4,2574.9 1763.7,2575.3 1765,2573.8 1766.3,2571.9 1767.6,2570.4 1768.9,2567.6 1770.2,2563.7 1771.5,2559.9 1772.8,2558.8 1774.1,2557.7 1775.4,2553.8 1776.7,2548.7 1778,2541.2 1779.3,2532.1 1780.6,2518.5 1782,2502.1 1783.3,2483 1784.6,2460.9 1785.9,2434.5 1787.2,2405.9 1788.5,2384.6 1789.8,2382.4 1791.1,2399 1792.4,2425 1793.7,2452.3 1795,2477.4 1796.3,2498.4 1797.6,2512.9 1798.9,2524.4 1800.2,2532.1 1801.5,2538.3 1802.8,2541.6 1804.1,2547.7 1805.4,2553.4 1806.7,2557 1808,2558.1 1809.3,2558.6 1810.6,2561.1 1811.9,2563.2 1813.2,2564.7 1814.6,2565 1815.9,2564.7 1817.2,2564.2 1818.5,2562.9 1819.8,2564.1 1821.1,2565.1 1822.4,2568.1 1823.7,2568.8 1825,2569.2 1826.3,2569.2 1827.6,2570.2 1828.9,2571.7 1830.2,2571.7 1831.5,2571.1 1832.8,2571.7 1834.1,2573 1835.4,2574.2 1836.7,2573.7 1838,2574.4 1839.3,2574.4 1840.6,2576.9 1841.9,2576 1843.2,2575.4 1844.5,2574.7 1845.8,2575.1 1847.2,2575.2 1848.5,2574.2 1849.8,2572.2 1851.1,2573.4 1852.4,2573 1853.7,2575.3 1855,2574.2 1856.3,2575.4 1857.6,2575.4 1858.9,2576.1 1860.2,2575.2 1861.5,2574.2 1862.8,2574.1 1864.1,2572.4 1865.4,2572.2 1866.7,2572.5 1868,2573.9 1869.3,2575.4 1870.6,2574.5 1871.9,2574.3 1873.2,2573 1874.5,2573.7 1875.8,2574.4 1877.1,2575.9 1878.4,2576.1 1879.8,2574.7 1881.1,2573.8 1882.4,2572.4 1883.7,2571.3 1885,2571.2 1886.3,2572.1 1887.6,2574.3 1888.9,2574.8 1890.2,2573.6 1891.5,2572 1892.8,2571.2 1894.1,2572.2 1895.4,2573.3 1896.7,2572 1898,2571.7 1899.3,2571.7 1900.6,2574.4 1901.9,2573.4 1903.2,2574.2 1904.5,2572.1 1905.8,2571.8 1907.1,2571.4 1908.4,2570.6 1909.7,2570.7 1911,2570 1912.4,2571.7 1913.7,2572.6 1915,2571.1 1916.3,2568.7 1917.6,2568.5 1918.9,2566.9 1920.2,2566.6 1921.5,2567.2 1922.8,2569.5 1924.1,2571.5 1925.4,2570.6 1926.7,2568.7 1928,2567.7 1929.3,2565.4 1930.6,2566.7 1931.9,2567.2 1933.2,2567.7 1934.5,2567.8 1935.8,2566.6 1937.1,2567.4 1938.4,2564.9 1939.7,2564.8 1941,2565.9 1942.3,2566.3 1943.6,2566.1 1945,2564.9 1946.3,2565.1 1947.6,2566.6 1948.9,2567.3 1950.2,2568.8 1951.5,2568.8 1952.8,2568.2 1954.1,2571 1955.4,2569.8 1956.7,2569.4 1958,2567.1 1959.3,2567.9 1960.6,2568 1961.9,2566.6 1963.2,2567 1964.5,2568.1 1965.8,2569.2 1967.1,2569.1 1968.4,2568.3 1969.7,2569 1971,2568.2 1972.3,2569.3 1973.6,2567.3 1974.9,2567.8 1976.2,2567.4 1977.6,2570.3 1978.9,2569.4 1980.2,2570.4 1981.5,2568.7 1982.8,2570.1 1984.1,2568.9 1985.4,2568.6 1986.7,2565.3 1988,2563.8 1989.3,2564.2 1990.6,2566.4 1991.9,2568 1993.2,2566.8 1994.5,2567 1995.8,2565.9 1997.1,2565.9 1998.4,2566.1 1999.7,2567.2 2001,2566.7 2002.3,2565.5 2003.6,2564.6 2004.9,2564.6 2006.2,2564.2 2007.5,2563 2008.8,2563.3 2010.2,2562.2 2011.5,2561.8 2012.8,2562 2014.1,2564 2015.4,2565.9 2016.7,2564.5 2018,2561.6 2019.3,2559.7 2020.6,2559.5 2021.9,2558.6 2023.2,2555.7 2024.5,2550.5 2025.8,2545.8 2027.1,2543.6 2028.4,2539 2029.7,2534.8 2031,2528.9 2032.3,2528.6 2033.6,2529.6 2034.9,2534.4 2036.2,2539.6 2037.5,2545.4 2038.8,2548.2 2040.1,2550.3 2041.4,2550.9 2042.8,2553.7 2044.1,2554.9 2045.4,2556.4 2046.7,2556.6 2048,2558.1 2049.3,2560.1 2050.6,2561.1 2051.9,2561.9 2053.2,2561.4 2054.5,2561.2 2055.8,2560.6 2057.1,2559.9 2058.4,2560.8 2059.7,2560.3 2061,2561.8 2062.3,2561.2 2063.6,2560.8 2064.9,2561.3 2066.2,2561.8 2067.5,2562.7 2068.8,2559.5 2070.1,2559.8 2071.4,2559.5 2072.7,2561.4 2074,2559.6 2075.4,2558.8 2076.7,2559 2078,2560 2079.3,2559.9 2080.6,2560.4 2081.9,2559.3 2083.2,2559.9 2084.5,2559.4 2085.8,2560.1 2087.1,2561.1 2088.4,2561.4 2089.7,2561.8 2091,2562.2 2092.3,2560.9 2093.6,2560.7 2094.9,2559.1 2096.2,2560.1 2097.5,2560.2 2098.8,2560.2 2100.1,2559.8 2101.4,2559.9 2102.7,2561 2104,2561.8 2105.3,2563.1 2106.6,2561.3 2108,2559.5 2109.3,2556.8 2110.6,2556.6 2111.9,2558.2 2113.2,2557.8 2114.5,2558.2 2115.8,2557.8 2117.1,2557.5 2118.4,2556.3 2119.7,2555.6 2121,2556.9 2122.3,2558.7 2123.6,2560 2124.9,2560.8 2126.2,2561.3 2127.5,2560.4 2128.8,2558.2 2130.1,2557.7 2131.4,2559.1 2132.7,2560.9 2134,2561.3 2135.3,2559.1 2136.6,2558.3 2137.9,2558 2139.2,2559.7 2140.6,2558 2141.9,2556.7 2143.2,2555.7 2144.5,2556.9 2145.8,2556.9 2147.1,2557.1 2148.4,2556.7 2149.7,2558.1 2151,2557.1 2152.3,2557.5 2153.6,2554.6 2154.9,2555.2 2156.2,2554.3 2157.5,2556.7 2158.8,2556.3 2160.1,2557.9 2161.4,2556.7 2162.7,2555.6 2164,2554.6 2165.3,2555.5 2166.6,2556 2167.9,2554.6 2169.2,2554.7 2170.5,2556.2 2171.8,2557.9 2173.2,2557.2 2174.5,2556.2 2175.8,2557 2177.1,2557.5 2178.4,2556.6 2179.7,2554.2 2181,2554 2182.3,2555.3 2183.6,2555.7 2184.9,2554.4 2186.2,2554.5 2187.5,2554.7 2188.8,2556 2190.1,2554.2 2191.4,2553.5 2192.7,2551.2 2194,2552.1 2195.3,2552.5 2196.6,2552.5 2197.9,2552.6 2199.2,2552.4 2200.5,2553.6 2201.8,2554.6 2203.1,2555.8 2204.4,2556.3 2205.8,2554.8 2207.1,2552.8 2208.4,2551.8 2209.7,2551.6 2211,2553.7 2212.3,2553.4 2213.6,2553.2 2214.9,2552 2216.2,2553.1 2217.5,2554.4 2218.8,2555.5 2220.1,2555 2221.4,2555.6 2222.7,2555 2224,2554.4 2225.3,2551.8 2226.6,2550.7 2227.9,2551.1 2229.2,2552.6 2230.5,2552.2 2231.8,2551.8 2233.1,2550.3 2234.4,2551.2 2235.7,2550.4 2237,2551.5 2238.4,2550.5 2239.7,2551.5 2241,2551.3 2242.3,2552.2 2243.6,2554.8 2244.9,2553.5 2246.2,2551.4 2247.5,2547.8 2248.8,2549.2 2250.1,2550 2251.4,2552 2252.7,2551 2254,2552.5 2255.3,2550.2 2256.6,2551.2 2257.9,2551.5 2259.2,2552 2260.5,2552.1 2261.8,2553.3 2263.1,2554.1 2264.4,2552 2265.7,2549.2 2267,2548.9 2268.3,2550.5 2269.6,2552.5 2271,2552.3 2272.3,2551.2 2273.6,2548.3 2274.9,2548.2 2276.2,2548.7 2277.5,2548.1 2278.8,2549.1 2280.1,2549.4 2281.4,2552.1 2282.7,2550.9 2284,2548.7 2285.3,2547.4 2286.6,2546.9 2287.9,2546.7 2289.2,2546.2 2290.5,2545.8 2291.8,2548.9 2293.1,2550.2 2294.4,2552.1 2295.7,2549.4 2297,2549.8 2298.3,2548.7 2299.6,2550.3 2300.9,2548.2 2302.2,2549 2303.6,2546.7 2304.9,2547.4 2306.2,2546.5 2307.5,2546.7 2308.8,2546.8 2310.1,2546.5 2311.4,2547.3 2312.7,2547.8 2314,2549.4 2315.3,2549.5 2316.6,2549.9 2317.9,2549.5 2319.2,2550.3 2320.5,2550.5 2321.8,2548.2 2323.1,2548.7 2324.4,2547.6 2325.7,2548.5 2327,2547.1 2328.3,2547.6 2329.6,2548.9 2330.9,2549.6 2332.2,2547.6 2333.5,2545.3 2334.8,2544.6 2336.2,2546.1 2337.5,2546.7 2338.8,2547.4 2340.1,2547.3 2341.4,2548.2 2342.7,2546.7 2344,2547.2" fill="none" stroke="#e8202a" stroke-width="6.5" stroke-linejoin="round" stroke-linecap="round" />
<polyline points="1414.2,2904 1415.5,2904.5 1416.8,2904.8 1418.1,2903.4 1419.4,2904 1420.7,2901.9 1422,2902.2 1423.4,2901.4 1424.7,2902.2 1426,2900.8 1427.3,2900.6 1428.6,2899.2 1429.9,2897.9 1431.2,2895.5 1432.5,2894 1433.8,2895.2 1435.1,2894.3 1436.4,2896.1 1437.7,2894.7 1439,2897.5 1440.3,2897.8 1441.6,2901.1 1442.9,2899.7 1444.2,2897.7 1445.5,2895.3 1446.8,2895.8 1448.1,2899.6 1449.4,2901.3 1450.7,2902.7 1452,2900 1453.3,2898.8 1454.6,2897.2 1456,2898.9 1457.3,2898.8 1458.6,2898.6 1459.9,2898.9 1461.2,2898.4 1462.5,2898.5 1463.8,2895.5 1465.1,2895.9 1466.4,2896.5 1467.7,2898.7 1469,2897.4 1470.3,2894.1 1471.6,2893.3 1472.9,2895.9 1474.2,2897.4 1475.5,2896.9 1476.8,2895.1 1478.1,2893.6 1479.4,2890.6 1480.7,2890.3 1482,2892.6 1483.3,2893.4 1484.6,2892.9 1485.9,2891.5 1487.2,2891.8 1488.6,2890.7 1489.9,2892.3 1491.2,2892.9 1492.5,2893.7 1493.8,2891.9 1495.1,2892 1496.4,2891.5 1497.7,2891.9 1499,2890.6 1500.3,2891.1 1501.6,2890.4 1502.9,2891.4 1504.2,2889.4 1505.5,2888.6 1506.8,2886.7 1508.1,2889.3 1509.4,2889.2 1510.7,2890 1512,2886.7 1513.3,2886 1514.6,2884.2 1515.9,2885.3 1517.2,2885 1518.5,2887.6 1519.8,2886.5 1521.2,2887.9 1522.5,2885.8 1523.8,2886.6 1525.1,2884.1 1526.4,2883.3 1527.7,2881.3 1529,2879.2 1530.3,2876.1 1531.6,2868.9 1532.9,2860.8 1534.2,2849 1535.5,2839.4 1536.8,2832.1 1538.1,2835.5 1539.4,2844 1540.7,2855.5 1542,2863.4 1543.3,2870.5 1544.6,2875.4 1545.9,2881.2 1547.2,2880.3 1548.5,2881.4 1549.8,2879.8 1551.1,2883.8 1552.4,2883.3 1553.8,2882.9 1555.1,2883.2 1556.4,2882.9 1557.7,2882.6 1559,2880.8 1560.3,2881 1561.6,2882.3 1562.9,2881.4 1564.2,2881.9 1565.5,2877.9 1566.8,2879 1568.1,2877.3 1569.4,2880.4 1570.7,2880.5 1572,2881.5 1573.3,2880.6 1574.6,2879.9 1575.9,2877.1 1577.2,2876.6 1578.5,2874.9 1579.8,2877.5 1581.1,2876.4 1582.4,2877.4 1583.7,2875.7 1585,2876.2 1586.4,2876.1 1587.7,2876.8 1589,2875.4 1590.3,2876.4 1591.6,2874.7 1592.9,2875.4 1594.2,2871.3 1595.5,2872.3 1596.8,2873.1 1598.1,2876.5 1599.4,2876.5 1600.7,2875.8 1602,2873.8 1603.3,2872.7 1604.6,2871.8 1605.9,2872.3 1607.2,2871.5 1608.5,2871.1 1609.8,2871.2 1611.1,2872.1 1612.4,2872 1613.7,2870.5 1615,2870.4 1616.3,2870.4 1617.6,2872.3 1619,2871.8 1620.3,2872.3 1621.6,2869.4 1622.9,2870.8 1624.2,2868.3 1625.5,2869.2 1626.8,2866.9 1628.1,2867.3 1629.4,2866.8 1630.7,2866.3 1632,2866.7 1633.3,2866.9 1634.6,2868.1 1635.9,2868.9 1637.2,2869.9 1638.5,2869 1639.8,2866.8 1641.1,2867 1642.4,2866.7 1643.7,2864.8 1645,2863 1646.3,2861.9 1647.6,2863.3 1648.9,2861.6 1650.2,2861.4 1651.6,2860.9 1652.9,2861.2 1654.2,2860.5 1655.5,2860.7 1656.8,2860.4 1658.1,2860.3 1659.4,2861.5 1660.7,2861 1662,2859.2 1663.3,2857.2 1664.6,2857.7 1665.9,2859.5 1667.2,2858.1 1668.5,2856.5 1669.8,2853.7 1671.1,2853.4 1672.4,2850.6 1673.7,2848.7 1675,2847.7 1676.3,2848.4 1677.6,2849.4 1678.9,2847.8 1680.2,2846.1 1681.5,2844.4 1682.8,2843.5 1684.2,2839.4 1685.5,2836.2 1686.8,2833.9 1688.1,2833.9 1689.4,2830.2 1690.7,2826.3 1692,2817 1693.3,2811.8 1694.6,2801.9 1695.9,2796.3 1697.2,2787.7 1698.5,2784.8 1699.8,2787 1701.1,2794.5 1702.4,2803 1703.7,2812.3 1705,2819.2 1706.3,2826.2 1707.6,2829.6 1708.9,2833.1 1710.2,2835.9 1711.5,2837.7 1712.8,2840.7 1714.1,2841.1 1715.4,2843.9 1716.8,2843.1 1718.1,2844.9 1719.4,2844.5 1720.7,2847.2 1722,2849.4 1723.3,2849.9 1724.6,2849.5 1725.9,2848.3 1727.2,2849.5 1728.5,2850.2 1729.8,2851.7 1731.1,2851.1 1732.4,2848.4 1733.7,2847.3 1735,2846.8 1736.3,2848.2 1737.6,2848.6 1738.9,2850.3 1740.2,2850.3 1741.5,2850.1 1742.8,2848.9 1744.1,2849.3 1745.4,2847.8 1746.7,2848.3 1748,2846.6 1749.4,2846.5 1750.7,2845.7 1752,2844.9 1753.3,2844.7 1754.6,2843.7 1755.9,2844.8 1757.2,2845.4 1758.5,2842.4 1759.8,2841.7 1761.1,2839.6 1762.4,2841.7 1763.7,2840.3 1765,2838.2 1766.3,2835.2 1767.6,2832 1768.9,2831.9 1770.2,2829.6 1771.5,2828.2 1772.8,2823.7 1774.1,2818.6 1775.4,2813.4 1776.7,2807.7 1778,2803.7 1779.3,2794.7 1780.6,2782 1782,2764.9 1783.3,2746.3 1784.6,2723.5 1785.9,2696.3 1787.2,2668.3 1788.5,2647.8 1789.8,2645.8 1791.1,2661 1792.4,2685.9 1793.7,2712.3 1795,2737.6 1796.3,2758.8 1797.6,2774.2 1798.9,2784.7 1800.2,2794.2 1801.5,2801.4 1802.8,2807.2 1804.1,2810.5 1805.4,2812.5 1806.7,2814.7 1808,2817.7 1809.3,2821.9 1810.6,2825.5 1811.9,2827.6 1813.2,2828.8 1814.6,2829.7 1815.9,2831.1 1817.2,2831.9 1818.5,2830.4 1819.8,2830.1 1821.1,2829.5 1822.4,2830.7 1823.7,2832.6 1825,2834.5 1826.3,2835.4 1827.6,2832.8 1828.9,2833.1 1830.2,2834 1831.5,2835.2 1832.8,2835 1834.1,2834.5 1835.4,2836.4 1836.7,2834.5 1838,2833.8 1839.3,2834.5 1840.6,2835.6 1841.9,2836.1 1843.2,2834.5 1844.5,2835.8 1845.8,2837.8 1847.2,2838.2 1848.5,2838.9 1849.8,2838.1 1851.1,2837.6 1852.4,2838.3 1853.7,2838.8 1855,2839 1856.3,2837.3 1857.6,2835.3 1858.9,2834 1860.2,2834 1861.5,2835.9 1862.8,2834.8 1864.1,2834.3 1865.4,2835.1 1866.7,2839.3 1868,2839 1869.3,2836.4 1870.6,2836.2 1871.9,2836 1873.2,2836.5 1874.5,2834.4 1875.8,2835.7 1877.1,2835.9 1878.4,2838.3 1879.8,2836.8 1881.1,2835 1882.4,2832.8 1883.7,2834 1885,2835.1 1886.3,2837.7 1887.6,2836.8 1888.9,2836.8 1890.2,2835.2 1891.5,2837.2 1892.8,2837.5 1894.1,2837.2 1895.4,2834.2 1896.7,2833 1898,2832.6 1899.3,2834.4 1900.6,2835.7 1901.9,2835.8 1903.2,2835.8 1904.5,2835.1 1905.8,2834.2 1907.1,2833.1 1908.4,2831.8 1909.7,2831.4 1911,2830.7 1912.4,2832.5 1913.7,2835.3 1915,2836.7 1916.3,2837.9 1917.6,2834.7 1918.9,2833.5 1920.2,2831.4 1921.5,2833.2 1922.8,2835.5 1924.1,2836.4 1925.4,2835.7 1926.7,2833.9 1928,2832.3 1929.3,2832.3 1930.6,2832.4 1931.9,2832.9 1933.2,2831.5 1934.5,2831.1 1935.8,2830.8 1937.1,2830.7 1938.4,2831.6 1939.7,2831.5 1941,2832.7 1942.3,2830.4 1943.6,2830 1945,2828.6 1946.3,2828.5 1947.6,2828.9 1948.9,2829.3 1950.2,2829 1951.5,2828.2 1952.8,2828.3 1954.1,2829.3 1955.4,2831.6 1956.7,2829.2 1958,2830 1959.3,2828.8 1960.6,2831.3 1961.9,2829.7 1963.2,2828.2 1964.5,2825.8 1965.8,2826.8 1967.1,2826.9 1968.4,2828 1969.7,2829 1971,2828.5 1972.3,2828.9 1973.6,2827.8 1974.9,2828.5 1976.2,2828.9 1977.6,2828.4 1978.9,2828.6 1980.2,2827 1981.5,2825.5 1982.8,2826.1 1984.1,2827.6 1985.4,2828.5 1986.7,2826.7 1988,2827.4 1989.3,2827.1 1990.6,2826.7 1991.9,2826.2 1993.2,2825.4 1994.5,2825.8 1995.8,2824.8 1997.1,2824.5 1998.4,2824.9 1999.7,2824.9 2001,2826.3 2002.3,2825.7 2003.6,2826.7 2004.9,2825.9 2006.2,2825.5 2007.5,2824.1 2008.8,2823.4 2010.2,2821.2 2011.5,2821.7 2012.8,2820.1 2014.1,2820.1 2015.4,2818.7 2016.7,2819.1 2018,2821.2 2019.3,2820.9 2020.6,2821.4 2021.9,2818.8 2023.2,2816.4 2024.5,2812 2025.8,2810 2027.1,2805.9 2028.4,2802.6 2029.7,2797.3 2031,2793.6 2032.3,2792.5 2033.6,2794.5 2034.9,2798.1 2036.2,2801.7 2037.5,2803.9 2038.8,2809 2040.1,2812.4 2041.4,2815.4 2042.8,2813.9 2044.1,2815.3 2045.4,2815.3 2046.7,2817.7 2048,2817.3 2049.3,2820 2050.6,2819.6 2051.9,2819.2 2053.2,2816.4 2054.5,2816.5 2055.8,2819.1 2057.1,2821.4 2058.4,2821.6 2059.7,2821.2 2061,2820.3 2062.3,2821.6 2063.6,2819.4 2064.9,2818.8 2066.2,2818.7 2067.5,2818.6 2068.8,2820.7 2070.1,2819.8 2071.4,2822.7 2072.7,2821.2 2074,2820.9 2075.4,2820.6 2076.7,2820.5 2078,2820.8 2079.3,2818.5 2080.6,2819.9 2081.9,2819.7 2083.2,2819.5 2084.5,2818.6 2085.8,2817.6 2087.1,2819.2 2088.4,2818 2089.7,2821.1 2091,2822.4 2092.3,2821.7 2093.6,2819.9 2094.9,2817 2096.2,2817.9 2097.5,2816.2 2098.8,2818.3 2100.1,2817.2 2101.4,2819.8 2102.7,2816.9 2104,2819.3 2105.3,2817.6 2106.6,2818.5 2108,2816.8 2109.3,2816.5 2110.6,2817.3 2111.9,2819.5 2113.2,2818.1 2114.5,2818 2115.8,2816.3 2117.1,2817.2 2118.4,2816.7 2119.7,2816.8 2121,2816.6 2122.3,2816.2 2123.6,2816.4 2124.9,2816.7 2126.2,2817.5 2127.5,2816.4 2128.8,2816.9 2130.1,2816.9 2131.4,2818.1 2132.7,2818 2134,2817.6 2135.3,2816.9 2136.6,2816 2137.9,2815.3 2139.2,2815.6 2140.6,2814.7 2141.9,2816.7 2143.2,2815.3 2144.5,2816.5 2145.8,2816.1 2147.1,2818.8 2148.4,2819.5 2149.7,2818.4 2151,2815.5 2152.3,2815.2 2153.6,2814.8 2154.9,2814.8 2156.2,2814 2157.5,2815.2 2158.8,2817 2160.1,2817.6 2161.4,2817.5 2162.7,2817.3 2164,2817.2 2165.3,2816.2 2166.6,2815.7 2167.9,2815 2169.2,2814.6 2170.5,2813.6 2171.8,2815.4 2173.2,2816.4 2174.5,2817.9 2175.8,2816.3 2177.1,2815.9 2178.4,2814.5 2179.7,2813.9 2181,2814.4 2182.3,2816.7 2183.6,2815.4 2184.9,2813.8 2186.2,2811.2 2187.5,2811.7 2188.8,2811.7 2190.1,2811.8 2191.4,2811.8 2192.7,2812.5 2194,2811.4 2195.3,2813.6 2196.6,2813.9 2197.9,2815 2199.2,2812.7 2200.5,2811.1 2201.8,2811.5 2203.1,2813.8 2204.4,2815.8 2205.8,2816.5 2207.1,2814 2208.4,2812.8 2209.7,2812.6 2211,2813.9 2212.3,2814.2 2213.6,2813.4 2214.9,2812.6 2216.2,2812.2 2217.5,2812.5 2218.8,2812.8 2220.1,2813.8 2221.4,2812.9 2222.7,2814.8 2224,2814.3 2225.3,2814.7 2226.6,2813.6 2227.9,2813.5 2229.2,2812.1 2230.5,2810.9 2231.8,2811.5 2233.1,2813.1 2234.4,2814.7 2235.7,2813 2237,2812.8 2238.4,2811 2239.7,2811.5 2241,2810.8 2242.3,2810.5 2243.6,2811.5 2244.9,2811 2246.2,2811.3 2247.5,2811.1 2248.8,2813.9 2250.1,2815.6 2251.4,2815.4 2252.7,2813.3 2254,2811.8 2255.3,2811.8 2256.6,2812 2257.9,2810.3 2259.2,2809.5 2260.5,2809.2 2261.8,2808.2 2263.1,2807.9 2264.4,2807.6 2265.7,2810.4 2267,2810.5 2268.3,2812.1 2269.6,2812.9 2271,2812.3 2272.3,2809.8 2273.6,2808.6 2274.9,2810.3 2276.2,2811.5 2277.5,2811.6 2278.8,2810.6 2280.1,2810.4 2281.4,2810.1 2282.7,2809.5 2284,2809.5 2285.3,2808.5 2286.6,2810.1 2287.9,2809.2 2289.2,2811.1 2290.5,2808.8 2291.8,2810.6 2293.1,2809.8 2294.4,2811 2295.7,2811.8 2297,2812 2298.3,2810.8 2299.6,2808.4 2300.9,2806.4 2302.2,2805.7 2303.6,2805.4 2304.9,2807.6 2306.2,2808.4 2307.5,2809.7 2308.8,2808.2 2310.1,2807.6 2311.4,2806.5 2312.7,2806.5 2314,2807.3 2315.3,2809.6 2316.6,2810.4 2317.9,2811.3 2319.2,2809.4 2320.5,2808.3 2321.8,2806.3 2323.1,2806.9 2324.4,2807.6 2325.7,2809.1 2327,2807.5 2328.3,2806.4 2329.6,2806.2 2330.9,2806.8 2332.2,2806.7 2333.5,2806.8 2334.8,2808 2336.2,2809.2 2337.5,2808.8 2338.8,2807.1 2340.1,2806.8 2341.4,2807 2342.7,2808.4 2344,2808.6" fill="none" stroke="#e8202a" stroke-width="6.5" stroke-linejoin="round" stroke-linecap="round" />
<rect x="1414.5" y="1732" width="949.5" height="595.5" fill="none" stroke="#2b2b2b" stroke-width="5"/>
<line x1="1439" y1="1732" x2="1439" y2="1746" stroke="#2b2b2b" stroke-width="4.5"/>
<line x1="1439" y1="2327.5" x2="1439" y2="2313.5" stroke="#2b2b2b" stroke-width="4.5"/>
<line x1="1569.4" y1="1732" x2="1569.4" y2="1746" stroke="#2b2b2b" stroke-width="4.5"/>
<line x1="1569.4" y1="2327.5" x2="1569.4" y2="2313.5" stroke="#2b2b2b" stroke-width="4.5"/>
<line x1="1699.8" y1="1732" x2="1699.8" y2="1746" stroke="#2b2b2b" stroke-width="4.5"/>
<line x1="1699.8" y1="2327.5" x2="1699.8" y2="2313.5" stroke="#2b2b2b" stroke-width="4.5"/>
<line x1="1830.2" y1="1732" x2="1830.2" y2="1746" stroke="#2b2b2b" stroke-width="4.5"/>
<line x1="1830.2" y1="2327.5" x2="1830.2" y2="2313.5" stroke="#2b2b2b" stroke-width="4.5"/>
<line x1="1960.6" y1="1732" x2="1960.6" y2="1746" stroke="#2b2b2b" stroke-width="4.5"/>
<line x1="1960.6" y1="2327.5" x2="1960.6" y2="2313.5" stroke="#2b2b2b" stroke-width="4.5"/>
<line x1="2091" y1="1732" x2="2091" y2="1746" stroke="#2b2b2b" stroke-width="4.5"/>
<line x1="2091" y1="2327.5" x2="2091" y2="2313.5" stroke="#2b2b2b" stroke-width="4.5"/>
<line x1="2221.4" y1="1732" x2="2221.4" y2="1746" stroke="#2b2b2b" stroke-width="4.5"/>
<line x1="2221.4" y1="2327.5" x2="2221.4" y2="2313.5" stroke="#2b2b2b" stroke-width="4.5"/>
<line x1="2351.8" y1="1732" x2="2351.8" y2="1746" stroke="#2b2b2b" stroke-width="4.5"/>
<line x1="2351.8" y1="2327.5" x2="2351.8" y2="2313.5" stroke="#2b2b2b" stroke-width="4.5"/>
<line x1="1414.5" y1="1819" x2="1429.5" y2="1819" stroke="#2b2b2b" stroke-width="4.5"/>
<line x1="2364" y1="1819" x2="2349" y2="1819" stroke="#2b2b2b" stroke-width="4.5"/>
<line x1="1414.5" y1="1903.6" x2="1429.5" y2="1903.6" stroke="#2b2b2b" stroke-width="4.5"/>
<line x1="2364" y1="1903.6" x2="2349" y2="1903.6" stroke="#2b2b2b" stroke-width="4.5"/>
<line x1="1414.5" y1="1988" x2="1429.5" y2="1988" stroke="#2b2b2b" stroke-width="4.5"/>
<line x1="2364" y1="1988" x2="2349" y2="1988" stroke="#2b2b2b" stroke-width="4.5"/>
<line x1="1414.5" y1="2072.5" x2="1429.5" y2="2072.5" stroke="#2b2b2b" stroke-width="4.5"/>
<line x1="2364" y1="2072.5" x2="2349" y2="2072.5" stroke="#2b2b2b" stroke-width="4.5"/>
<line x1="1414.5" y1="2157" x2="1429.5" y2="2157" stroke="#2b2b2b" stroke-width="4.5"/>
<line x1="2364" y1="2157" x2="2349" y2="2157" stroke="#2b2b2b" stroke-width="4.5"/>
<line x1="1414.5" y1="2241" x2="1429.5" y2="2241" stroke="#2b2b2b" stroke-width="4.5"/>
<line x1="2364" y1="2241" x2="2349" y2="2241" stroke="#2b2b2b" stroke-width="4.5"/>
<rect x="1414.5" y="2352" width="949.5" height="594.5" fill="none" stroke="#2b2b2b" stroke-width="5"/>
<line x1="1439" y1="2352" x2="1439" y2="2366" stroke="#2b2b2b" stroke-width="4.5"/>
<line x1="1439" y1="2946.5" x2="1439" y2="2932.5" stroke="#2b2b2b" stroke-width="4.5"/>
<line x1="1569.4" y1="2352" x2="1569.4" y2="2366" stroke="#2b2b2b" stroke-width="4.5"/>
<line x1="1569.4" y1="2946.5" x2="1569.4" y2="2932.5" stroke="#2b2b2b" stroke-width="4.5"/>
<line x1="1699.8" y1="2352" x2="1699.8" y2="2366" stroke="#2b2b2b" stroke-width="4.5"/>
<line x1="1699.8" y1="2946.5" x2="1699.8" y2="2932.5" stroke="#2b2b2b" stroke-width="4.5"/>
<line x1="1830.2" y1="2352" x2="1830.2" y2="2366" stroke="#2b2b2b" stroke-width="4.5"/>
<line x1="1830.2" y1="2946.5" x2="1830.2" y2="2932.5" stroke="#2b2b2b" stroke-width="4.5"/>
<line x1="1960.6" y1="2352" x2="1960.6" y2="2366" stroke="#2b2b2b" stroke-width="4.5"/>
<line x1="1960.6" y1="2946.5" x2="1960.6" y2="2932.5" stroke="#2b2b2b" stroke-width="4.5"/>
<line x1="2091" y1="2352" x2="2091" y2="2366" stroke="#2b2b2b" stroke-width="4.5"/>
<line x1="2091" y1="2946.5" x2="2091" y2="2932.5" stroke="#2b2b2b" stroke-width="4.5"/>
<line x1="2221.4" y1="2352" x2="2221.4" y2="2366" stroke="#2b2b2b" stroke-width="4.5"/>
<line x1="2221.4" y1="2946.5" x2="2221.4" y2="2932.5" stroke="#2b2b2b" stroke-width="4.5"/>
<line x1="2351.8" y1="2352" x2="2351.8" y2="2366" stroke="#2b2b2b" stroke-width="4.5"/>
<line x1="2351.8" y1="2946.5" x2="2351.8" y2="2932.5" stroke="#2b2b2b" stroke-width="4.5"/>
<line x1="1414.5" y1="2434" x2="1429.5" y2="2434" stroke="#2b2b2b" stroke-width="4.5"/>
<line x1="2364" y1="2434" x2="2349" y2="2434" stroke="#2b2b2b" stroke-width="4.5"/>
<line x1="1414.5" y1="2520" x2="1429.5" y2="2520" stroke="#2b2b2b" stroke-width="4.5"/>
<line x1="2364" y1="2520" x2="2349" y2="2520" stroke="#2b2b2b" stroke-width="4.5"/>
<line x1="1414.5" y1="2605.5" x2="1429.5" y2="2605.5" stroke="#2b2b2b" stroke-width="4.5"/>
<line x1="2364" y1="2605.5" x2="2349" y2="2605.5" stroke="#2b2b2b" stroke-width="4.5"/>
<line x1="1414.5" y1="2691" x2="1429.5" y2="2691" stroke="#2b2b2b" stroke-width="4.5"/>
<line x1="2364" y1="2691" x2="2349" y2="2691" stroke="#2b2b2b" stroke-width="4.5"/>
<line x1="1414.5" y1="2776" x2="1429.5" y2="2776" stroke="#2b2b2b" stroke-width="4.5"/>
<line x1="2364" y1="2776" x2="2349" y2="2776" stroke="#2b2b2b" stroke-width="4.5"/>
<line x1="1414.5" y1="2861" x2="1429.5" y2="2861" stroke="#2b2b2b" stroke-width="4.5"/>
<line x1="2364" y1="2861" x2="2349" y2="2861" stroke="#2b2b2b" stroke-width="4.5"/>
<text transform="translate(1270.9,1767) scale(1.0,1)" font-size="107" fill="#111" stroke="#111" stroke-width="1.4">d</text><text transform="translate(1338.6,1768.7) scale(0.82,1)" font-size="110" fill="#111" stroke="#111" stroke-width="1.4">)</text>
<text x="1817" y="1854" font-size="76" text-anchor="start" font-weight="normal" fill="#111" stroke="#111" stroke-width="1.4" >TiS<tspan font-size="51.7" dy="25.8">3</tspan></text>
<text transform="translate(2225.6,1843.5) scale(0.68,1)" font-size="79" text-anchor="start" font-weight="bold" fill="#111" stroke="#111" stroke-width="1.4">1</text>
<text x="2105" y="1994" font-size="76" text-anchor="start" font-weight="normal" fill="#111" stroke="#111" stroke-width="1.4" >Before</text>
<text x="2183" y="2274" font-size="76" text-anchor="start" font-weight="normal" fill="#111" stroke="#111" stroke-width="1.4" >After</text>
<text x="1581" y="2254" font-size="76" text-anchor="start" font-weight="normal" fill="#111" stroke="#111" stroke-width="1.4" >TiO<tspan font-size="51.7" dy="25.8">2</tspan></text>
<text transform="translate(2228.1,2465.5) scale(0.84,1)" font-size="79" text-anchor="start" font-weight="bold" fill="#111" stroke="#111" stroke-width="1.4">2</text>
<text x="1830" y="2513" font-size="76" text-anchor="start" font-weight="normal" fill="#111" stroke="#111" stroke-width="1.4" >TiS<tspan font-size="51.7" dy="25.8">3</tspan></text>
<text x="2090" y="2634" font-size="76" text-anchor="start" font-weight="normal" fill="#111" stroke="#111" stroke-width="1.4" >Before</text>
<text x="2140" y="2894" font-size="76" text-anchor="start" font-weight="normal" fill="#111" stroke="#111" stroke-width="1.4" >After</text>
<text x="1571.4" y="3035.5" font-size="95" text-anchor="middle" font-weight="normal" fill="#111" stroke="#111" stroke-width="1.4" >200</text>
<text x="1832.2" y="3035.5" font-size="95" text-anchor="middle" font-weight="normal" fill="#111" stroke="#111" stroke-width="1.4" >400</text>
<text x="2093" y="3035.5" font-size="95" text-anchor="middle" font-weight="normal" fill="#111" stroke="#111" stroke-width="1.4" >600</text>
<text x="2353.8" y="3035.5" font-size="95" text-anchor="middle" font-weight="normal" fill="#111" stroke="#111" stroke-width="1.4" >800</text>
<text transform="translate(1546,3139) scale(0.98,1)" font-size="95" text-anchor="start" font-weight="normal" fill="#111" stroke="#111" stroke-width="1.4">Raman Shift (cm<tspan font-size="55" dy="-35">-1</tspan><tspan dy="35">)</tspan></text>
<text transform="translate(1357,2440) rotate(-90)" font-size="93.5" text-anchor="middle" fill="#111" stroke="#111" stroke-width="1.4">Intensity (arb. un.)</text>
</svg>
</body></html>
